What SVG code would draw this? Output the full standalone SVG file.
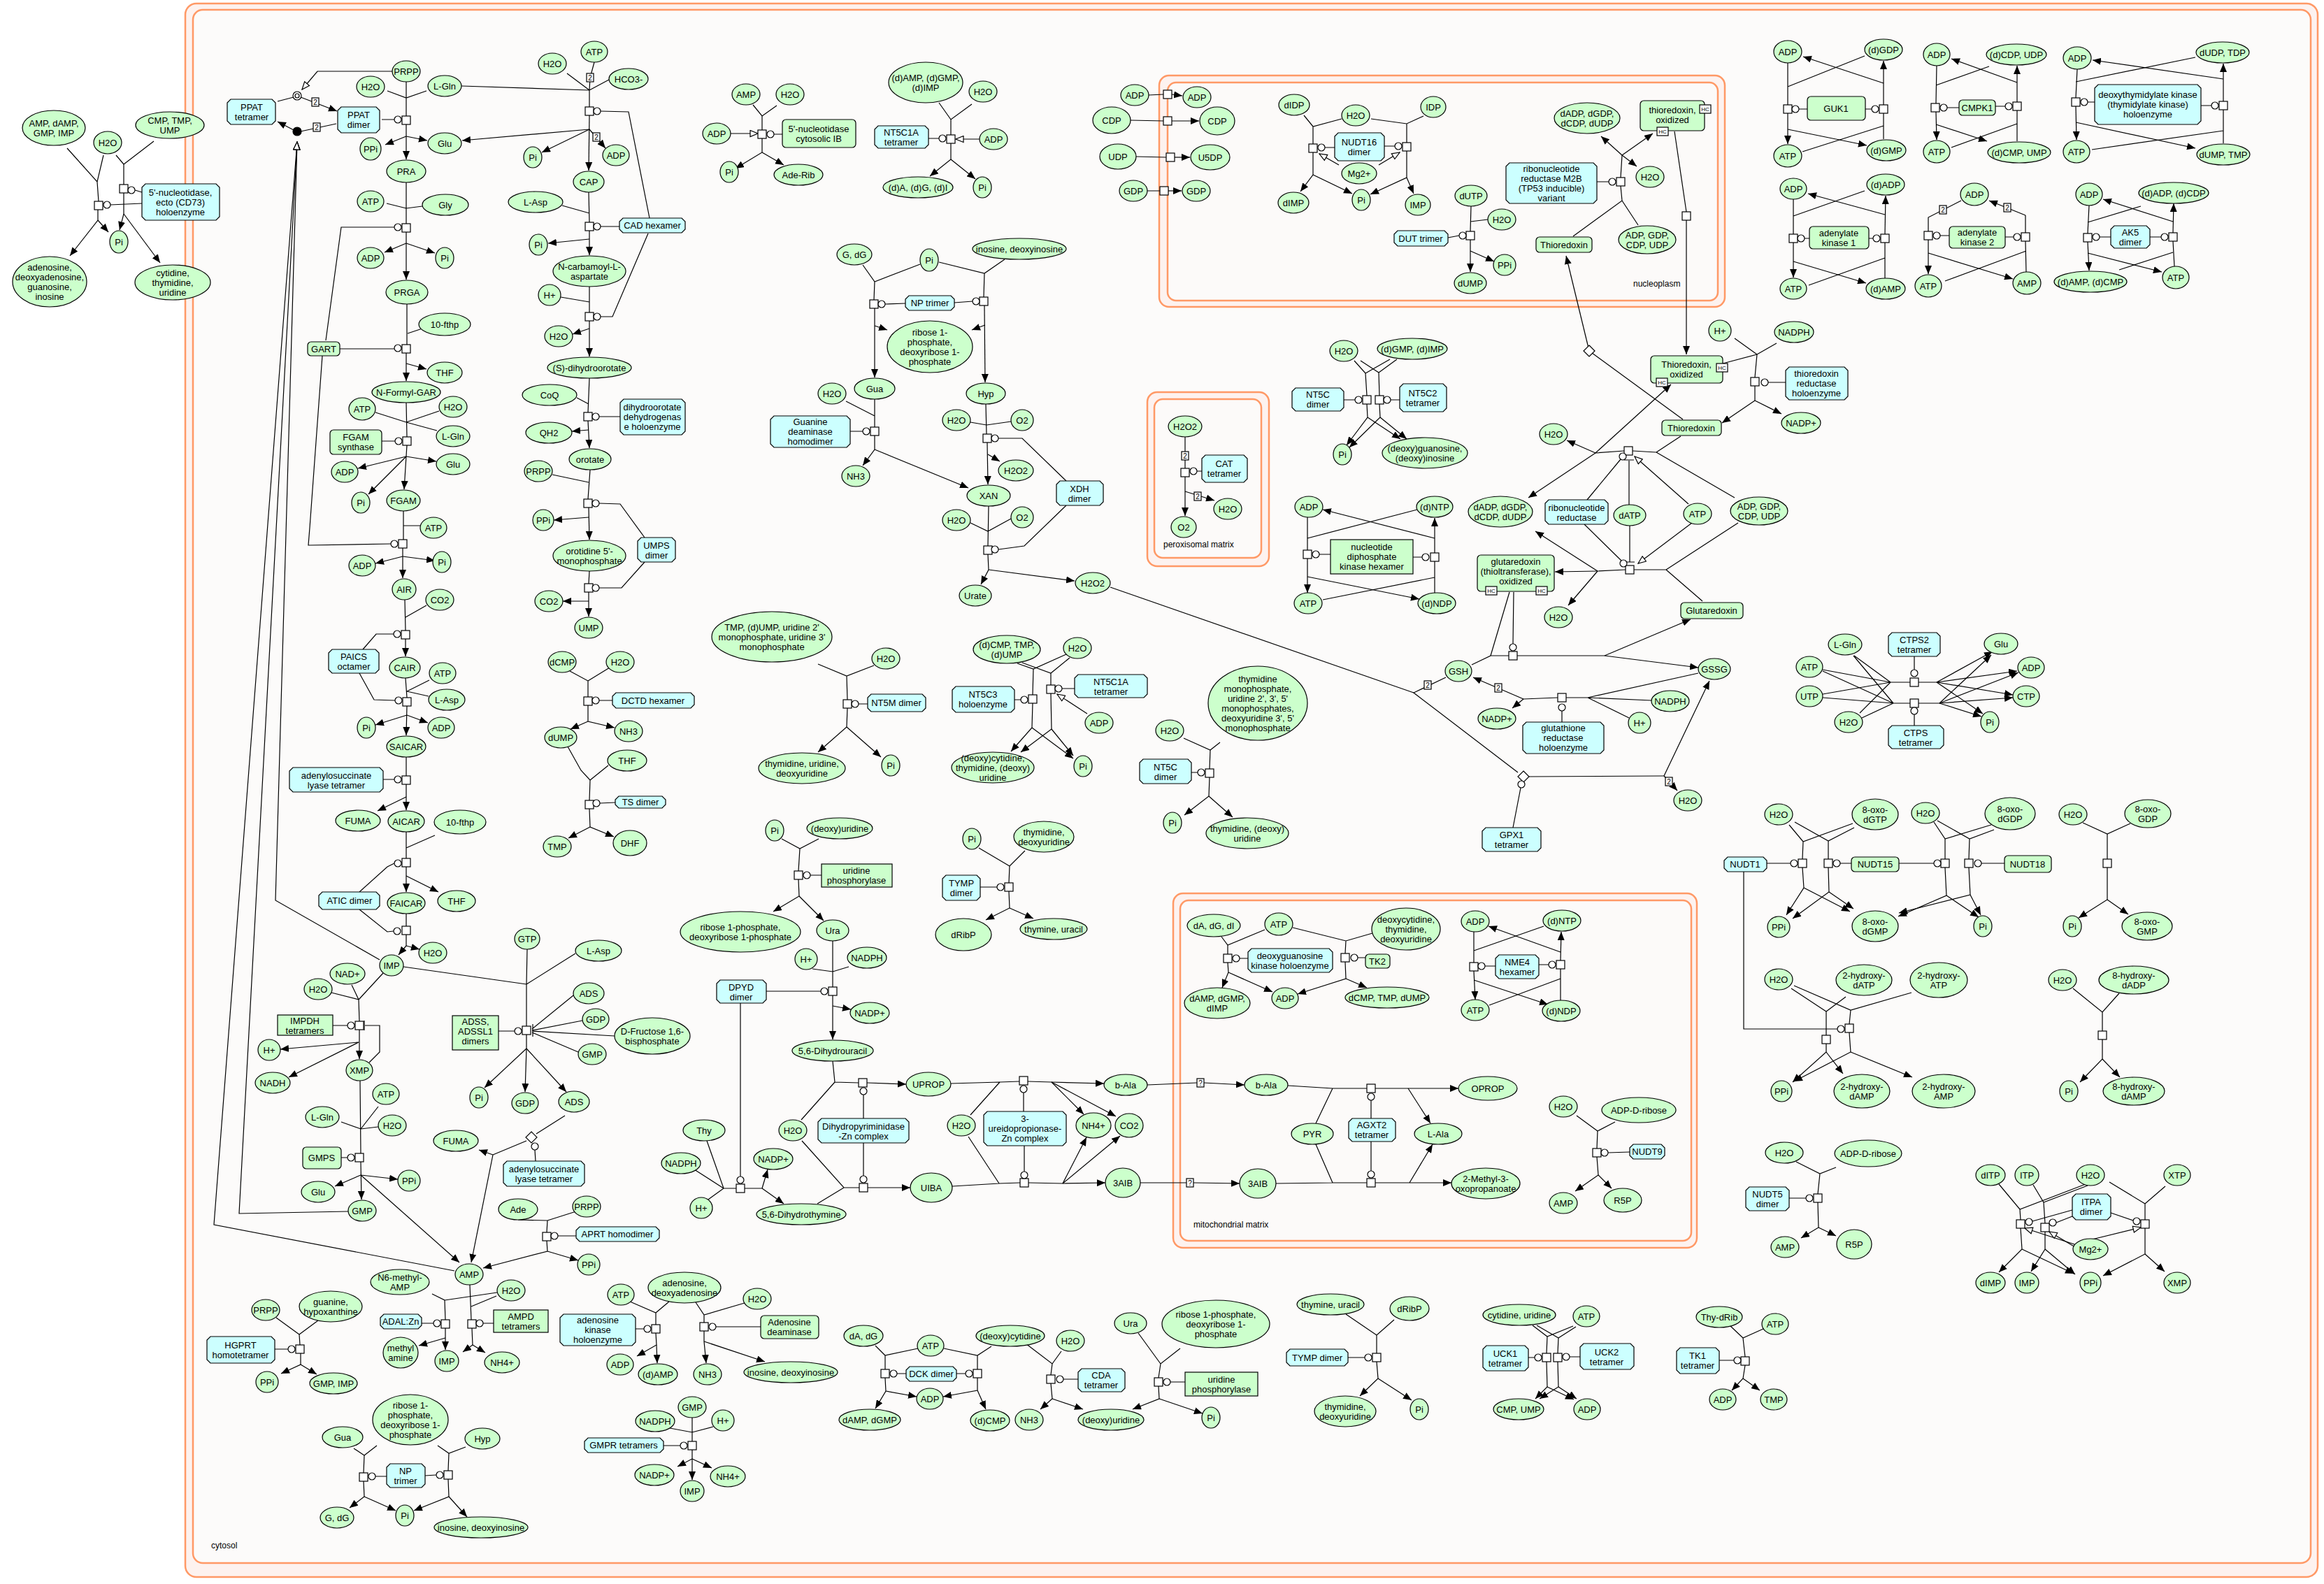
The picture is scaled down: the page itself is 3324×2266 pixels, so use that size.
<svg xmlns="http://www.w3.org/2000/svg" xmlns:xlink="http://www.w3.org/1999/xlink" width="3324" height="2266" viewBox="0 0 3324 2266">
<style>
ellipse{fill:#ccffcc;stroke:#000;stroke-width:1.2}
.cx{fill:#ccffff;stroke:#000;stroke-width:1.2}
.gr{fill:#ccffcc;stroke:#000;stroke-width:1.2}
text{font-family:"Liberation Sans",Arial,sans-serif;font-size:13px;text-anchor:middle;fill:#000}
.lb{text-anchor:start;font-size:12px}
#conn path{fill:none;stroke:#000;stroke-width:1.2}
#conn .a{marker-end:url(#a)}
#conn .h{marker-end:url(#h)}
.s{fill:#fff;stroke:#000;stroke-width:1.2}
circle{fill:#fff;stroke:#000;stroke-width:1.2}
.cmp{stroke:#ff9966;stroke-width:2.5}
.sm{font-size:10px}
.hc{font-size:8px}
</style>
<defs>
<marker id="a" viewBox="0 0 12 10" refX="12" refY="5" markerWidth="12" markerHeight="10" markerUnits="userSpaceOnUse" orient="auto"><path d="M0,0L12,5L0,10z" fill="#000"/></marker>
<marker id="h" viewBox="0 0 13 11" refX="12" refY="5.5" markerWidth="13" markerHeight="11" markerUnits="userSpaceOnUse" orient="auto"><path d="M1,1L12,5.5L1,10z" fill="#fff" stroke="#000" stroke-width="1.2"/></marker>
<rect id="sq" x="-6" y="-6" width="12" height="12" class="s"/>
<circle id="ci" r="5"/>
<path id="dm" d="M0,-8L8,0L0,8L-8,0z" class="s"/>
<g id="s2"><rect x="-5" y="-6" width="10" height="12" class="s"/><text y="4" class="sm">2</text></g>
<g id="sqq"><rect x="-5" y="-6" width="10" height="12" class="s"/><text y="4" class="sm">?</text></g>
<g id="hcb"><rect x="-8" y="-6" width="16" height="12" class="s"/><text y="3" class="hc">HC</text></g>
</defs>
<rect width="3324" height="2266" fill="#fff"/>
<g id="compartments">
<rect class="cmp" x="265" y="5" width="3050" height="2251" rx="16" fill="#fdf2ef"/>
<rect class="cmp" x="276" y="14" width="3029" height="2222" rx="14" fill="#fcfbfa"/>
<text class="lb" x="302" y="2215">cytosol</text>
<rect class="cmp" x="1658" y="108" width="809" height="331" rx="14" fill="#fdf2ef"/>
<rect class="cmp" x="1670" y="118" width="787" height="312" rx="12" fill="#fcfaf9"/>
<text class="lb" x="2336" y="410">nucleoplasm</text>
<rect class="cmp" x="1641" y="561" width="174" height="249" rx="14" fill="#fdf2ef"/>
<rect class="cmp" x="1651" y="571" width="153" height="227" rx="12" fill="#fcfaf9"/>
<text class="lb" x="1664" y="783">peroxisomal matrix</text>
<rect class="cmp" x="1678" y="1278" width="749" height="507" rx="14" fill="#fdf2ef"/>
<rect class="cmp" x="1688" y="1288" width="731" height="487" rx="12" fill="#fcfaf9"/>
<text class="lb" x="1707" y="1756">mitochondrial matrix</text>
</g>
<g id="conn">
<!-- CD73 -->
<path d="M96,212L139,260L141,288M148,222L139,260"/>
<path class="a" d="M140,300L140,315L100,366"/><path class="a" d="M140,315L155,332"/>
<path d="M166,222L177,235L177,264M220,202L177,235"/>
<path class="a" d="M177,276L177,306L171,329"/><path class="a" d="M177,306L229,376"/>
<path d="M203,291L158,293M203,275L193,272"/>
<!-- PPAT -->
<path d="M397,145L420,139"/><path class="a" d="M430,139L482,159"/>
<path d="M481,177L430,188"/><path class="a" d="M420,186L397,174"/>
<path class="h" d="M562,102L454,102L432,128"/>
<path class="h" d="M543,1373L394,1288L425,203"/>
<path class="h" d="M498,1733L342,1736L425,203"/>
<path class="h" d="M650,1818L306,1752L425,203"/>
<path d="M581,117L581,166M554,130L581,140L610,130M546,171L564,171"/>
<path class="a" d="M581,178L581,228"/><path class="a" d="M581,195L551,207"/><path class="a" d="M581,195L611,201"/>
<!-- GAR -->
<path d="M581,261L581,320M553,291L581,298L604,295M466,487L488,325L564,325"/>
<path class="a" d="M581,332L581,400"/><path class="a" d="M581,348L550,361"/><path class="a" d="M581,348L622,362"/>
<path d="M582,435L582,493M583,477L604,470M486,499L564,499"/>
<path class="a" d="M581,505L581,545"/><path class="a" d="M581,520L610,528"/>
<path d="M581,576L582,625M537,590L581,604L625,616M628,588L581,604M546,631L565,631"/>
<path class="a" d="M582,637L578,700"/><path class="a" d="M581,653L512,670"/><path class="a" d="M581,653L624,660"/><path class="a" d="M581,653L527,707"/>
<path d="M577,731L577,772M601,752L577,752M461,509L443,755L441,780L559,778"/>
<path class="a" d="M576,784L576,827"/><path class="a" d="M576,796L537,806"/><path class="a" d="M576,796L622,802"/>
<path d="M579,858L580,902M580,883L610,866M519,929L538,907L563,907"/>
<path class="a" d="M580,914L580,939"/>
<path d="M580,970L582,998M582,989L614,973M582,989L613,996M514,963L535,1001L565,1002"/>
<path class="a" d="M582,1010L581,1052"/><path class="a" d="M582,1023L537,1037"/><path class="a" d="M582,1023L612,1034"/>
<path d="M581,1083L581,1110M548,1115L564,1115"/>
<path class="a" d="M581,1122L581,1159"/><path class="a" d="M581,1140L540,1160"/>
<path d="M581,1190L581,1228M581,1213L622,1195M514,1276L554,1240L564,1235"/>
<path class="a" d="M581,1240L581,1276"/><path class="a" d="M581,1253L627,1276"/>
<path d="M581,1307L581,1325M514,1301L554,1333L563,1332"/>
<path class="a" d="M581,1337L581,1353L570,1366"/><path class="a" d="M581,1353L600,1358"/>
<!-- IMPDH, GMPS -->
<path d="M548,1392L513,1430M503,1409L513,1430M474,1420L513,1430M513,1430L514,1461M476,1467L497,1467"/>
<path d="M528,1520L543,1505L543,1467L522,1467M521,1460L521,1474"/>
<path class="a" d="M514,1473L514,1515"/><path class="a" d="M513,1491L401,1501"/><path class="a" d="M513,1491L413,1541"/>
<path d="M515,1546L516,1650M541,1583L516,1615M488,1605L516,1615L541,1612M488,1656L497,1656"/>
<path class="a" d="M516,1662L517,1716"/><path class="a" d="M516,1681L479,1697"/><path class="a" d="M516,1681L569,1687"/><path class="a" d="M516,1681L657,1806"/>
<!-- ADSS -->
<path d="M577,1383L753,1408M754,1358L753,1408M823,1364L753,1408M753,1408L753,1468M713,1475L736,1475"/>
<path d="M820,1424L761,1472M833,1460L761,1474M879,1482L761,1475M827,1505L761,1477M762,1465L762,1483"/>
<path d="M753,1480L753,1500"/><path class="a" d="M753,1500L693,1556"/><path class="a" d="M753,1500L751,1562"/><path class="a" d="M753,1500L810,1562"/>
<!-- ADSL2 -->
<path d="M808,1596L767,1622M766,1661L765,1645M753,1632L705,1652"/>
<path class="a" d="M705,1652L685,1645"/><path class="a" d="M705,1652L674,1806"/>
<!-- APRT -->
<path d="M741,1745L783,1746M824,1733L783,1746M783,1746L782,1763M824,1768L798,1768"/>
<path class="a" d="M782,1775L783,1790L691,1814"/><path class="a" d="M783,1790L827,1803"/>
<!-- AMPD / ADAL -->
<path d="M672,1838L674,1888M710,1854L674,1869M706,1893L691,1893"/>
<path class="a" d="M675,1900L676,1924L662,1934"/><path class="a" d="M676,1924L694,1935"/>
<path d="M618,1851L636,1860L637,1888M711,1849L636,1860M603,1893L620,1893"/>
<path class="a" d="M637,1900L637,1931"/><path class="a" d="M637,1914L599,1925"/>
<!-- HGPRT -->
<path d="M395,1885L428,1909M455,1889L428,1909M428,1909L429,1924M393,1930L412,1930"/>
<path class="a" d="M430,1936L430,1952L402,1965"/><path class="a" d="M430,1952L453,1966"/>
<!-- NP lower -->
<path d="M506,2072L521,2082L539,2068M521,2082L520,2107M553,2112L537,2112"/>
<path class="a" d="M520,2119L521,2141L500,2157"/><path class="a" d="M521,2141L566,2161"/>
<path d="M666,2070L642,2079L626,2068M642,2079L641,2104M608,2111L624,2110"/>
<path class="a" d="M641,2116L642,2141L592,2161"/><path class="a" d="M642,2141L668,2170"/>
<!-- CPS -->
<path d="M811,105L843,129M850,89L844,111L843,129M871,114L843,129M660,123L843,129M843,129L843,153M859,159L899,160L929,312"/>
<path class="a" d="M843,165L842,244"/><path class="a" d="M843,185L661,201"/><path class="a" d="M843,185L775,218"/><path class="a" d="M843,185L866,212"/>
<path d="M842,275L843,318M804,294L843,305M886,324L859,324"/>
<path class="a" d="M843,330L843,365"/><path class="a" d="M843,342L784,348"/>
<path d="M843,410L843,447M802,425L843,432M927,334L876,453L859,453"/>
<path class="a" d="M843,459L843,510"/><path class="a" d="M843,470L819,478"/>
<path d="M843,541L841,590M825,569L842,578M887,596L857,596"/>
<path class="a" d="M841,602L843,641"/><path class="a" d="M842,615L818,617"/>
<path d="M844,672L841,714M790,679L842,690M922,769L887,721L857,720"/>
<path class="a" d="M842,726L843,772"/><path class="a" d="M842,740L792,744"/>
<path d="M843,817L842,835M922,804L889,841L857,841"/>
<path class="a" d="M842,847L842,882"/><path class="a" d="M842,860L805,860"/>
<!-- DCTD / TS -->
<path d="M815,960L841,974L841,997M872,955L841,974M876,1002L857,1002"/>
<path class="a" d="M841,1009L841,1032L879,1041"/><path class="a" d="M841,1032L816,1043"/>
<path d="M812,1068L831,1102L844,1116L843,1145M870,1095L844,1116M880,1148L858,1149"/>
<path class="a" d="M843,1157L844,1183L878,1197"/><path class="a" d="M844,1183L813,1199"/>
<!-- 5NT IB -->
<path d="M1077,150L1090,166L1111,151M1090,166L1090,186M1119,192L1107,192"/>
<path class="h" d="M1045,191L1084,191"/>
<path class="a" d="M1090,198L1090,218L1052,241"/><path class="a" d="M1090,218L1121,236"/>
<!-- NT5C1A top -->
<path d="M1343,147L1360,171L1390,149M1360,171L1360,193M1328,198L1343,198"/>
<path class="h" d="M1401,199L1367,199"/>
<path class="a" d="M1360,205L1360,228L1330,252"/><path class="a" d="M1360,228L1395,256"/>
<!-- NP upper -->
<path d="M1234,379L1251,403L1316,378M1251,403L1250,429M1295,434L1266,435"/>
<path class="a" d="M1251,441L1251,540"/><path class="a" d="M1251,466L1269,472"/>
<path d="M1343,375L1408,391L1437,371M1408,391L1407,425M1365,433L1391,431"/>
<path class="a" d="M1408,437L1409,547"/><path class="a" d="M1409,465L1390,472"/>
<path d="M1251,571L1251,611M1210,574L1251,595M1216,617L1234,617"/>
<path class="a" d="M1251,623L1251,643L1234,666"/><path class="a" d="M1251,643L1385,698"/>
<!-- XDH -->
<path d="M1410,578L1411,621M1388,604L1411,608L1446,603M1525,688L1462,627L1428,627"/>
<path class="a" d="M1412,633L1413,693"/><path class="a" d="M1413,650L1430,660"/>
<path d="M1414,724L1413,781M1388,748L1413,760L1446,742M1525,723L1465,781L1428,786"/>
<path class="a" d="M1413,793L1414,815L1403,836"/><path class="a" d="M1414,815L1537,831"/>
<path d="M1588,840L2022,991"/>
<!-- transport -->
<path d="M1643,136L1664,135M1617,172L1664,173M1625,224L1668,225M1641,273L1659,273"/>
<path class="a" d="M1676,135L1691,137"/><path class="a" d="M1676,173L1715,173"/><path class="a" d="M1680,225L1702,225"/><path class="a" d="M1671,273L1690,273"/>
<!-- NUDT16 -->
<path d="M1865,165L1878,181L1919,170M1878,181L1878,206M1909,211L1895,211M1961,170L2012,177L2036,166M2012,177L2012,204M1980,209L1995,209"/>
<path class="h" d="M1915,236L1887,220"/><path class="h" d="M1972,236L2002,218"/>
<path class="a" d="M1878,218L1878,250L1860,274"/><path class="a" d="M1878,250L1934,277"/>
<path class="a" d="M2012,216L2012,254L1960,278"/><path class="a" d="M2012,254L2022,277"/>
<!-- DUT -->
<path d="M2104,295L2103,331M2103,317L2128,314M2071,340L2087,337"/>
<path class="a" d="M2103,343L2103,389"/><path class="a" d="M2103,359L2137,374"/>
<!-- RNR M2B -->
<path d="M2284,260L2301,260M2318,254L2320,222M2318,266L2320,287M2250,338L2320,287L2343,322"/>
<path class="a" d="M2320,222L2290,195"/><path class="a" d="M2320,222L2364,191"/><path class="a" d="M2320,222L2341,238"/>
<path d="M2395,188L2412,303"/><path class="a" d="M2412,315L2412,507"/>
<path d="M2407,600L2273,502"/><path class="a" d="M2273,502L2240,366"/>
<!-- TrxR -->
<path d="M2464,520L2513,507M2481,484L2513,507M2541,491L2513,507M2513,507L2510,540M2554,547L2529,547M2510,552L2510,573"/>
<path class="a" d="M2510,573L2548,592"/><path class="a" d="M2510,573L2463,605"/>
<!-- CAT -->
<path d="M1695,625L1695,670M1719,674L1712,674"/>
<path class="a" d="M1695,682L1695,738"/><path class="a" d="M1695,703L1737,716"/>
<!-- NT5C NT5C2 -->
<path d="M1937,516L1953,534L1988,514M1946,516L1972,533L1998,514M1953,534L1955,566M1972,533L1973,566M1922,572L1938,572M2002,572L1989,572"/>
<path class="a" d="M1955,578L1956,597L1926,637"/><path class="a" d="M1956,597L2003,628"/>
<path class="a" d="M1973,578L1974,597L1930,640"/><path class="a" d="M1974,597L2012,628"/>
<!-- NDK -->
<path d="M1870,740L1870,787M2027,729L1870,770M1903,793L1887,793M2021,797L2034,797M1892,858L2052,826M2052,848L2052,803"/>
<path class="a" d="M1870,799L1870,848"/><path class="a" d="M2052,770L1892,729"/><path class="a" d="M1870,825L2030,857"/><path class="a" d="M2052,791L2052,741"/>
<!-- RNR upper -->
<path d="M2282,648L2323,645M2335,645L2369,647M2404,624L2369,647M2481,712L2369,647M2270,715L2318,657M2330,722L2330,659M2323,658L2337,658"/>
<path class="a" d="M2282,648L2241,630"/><path class="a" d="M2282,648L2186,712"/><path class="a" d="M2282,648L2390,550"/>
<path class="h" d="M2415,721L2338,653"/>
<!-- glutaredoxin RNR -->
<path d="M2285,817L2325,815M2337,815L2383,815M2435,860L2383,815M2486,748L2383,815M2266,750L2319,802M2331,752L2331,804M2324,804L2338,804"/>
<path class="a" d="M2285,817L2224,818"/><path class="a" d="M2285,817L2243,866"/><path class="a" d="M2285,817L2196,760"/>
<path class="h" d="M2420,748L2343,806"/>
<!-- GSH -->
<path d="M2159,847L2132,938L2105,951M2132,938L2158,938M2170,938L2295,938M2165,847L2164,921"/>
<path class="a" d="M2295,938L2418,886"/><path class="a" d="M2295,938L2429,955"/>
<path d="M2179,1000L2228,998M2240,998L2271,998M2429,963L2271,998M2362,1002L2271,998M2330,1027L2271,998M2234,1033L2234,1017"/>
<path class="a" d="M2179,1000L2107,969"/><path class="a" d="M2179,1000L2163,1013"/>
<path d="M2068,969L2022,991L2171,1105M2187,1111L2380,1110M2164,1184L2175,1127"/>
<path class="a" d="M2380,1110L2445,974"/><path class="a" d="M2380,1110L2399,1131"/>
<!-- NT5C lower -->
<path d="M1693,1056L1731,1073L1745,1062M1731,1073L1730,1100M1704,1105L1713,1105"/>
<path class="a" d="M1730,1112L1729,1139L1694,1166"/><path class="a" d="M1729,1139L1763,1169"/>
<!-- NT5M -->
<path d="M1170,950L1211,967L1250,952M1211,967L1212,1001M1241,1007L1228,1007"/>
<path class="a" d="M1212,1013L1211,1040L1170,1076"/><path class="a" d="M1211,1040L1260,1083"/>
<!-- NT5C3 -->
<path d="M1455,949L1478,957L1525,936M1462,948L1503,963L1530,941M1478,957L1477,994M1503,963L1503,980M1451,1001L1460,1001M1537,985L1519,985"/>
<path class="h" d="M1555,1021L1512,993"/>
<path class="a" d="M1477,1006L1476,1041L1446,1075"/><path class="a" d="M1476,1041L1535,1085"/>
<path class="a" d="M1503,992L1504,1043L1460,1076"/><path class="a" d="M1504,1043L1535,1081"/>
<!-- UPP upper -->
<path d="M1118,1200L1144,1214L1171,1200M1144,1214L1142,1246M1175,1252L1159,1252"/>
<path class="a" d="M1142,1258L1143,1282L1106,1304"/><path class="a" d="M1143,1282L1178,1317"/>
<!-- TYMP upper -->
<path d="M1400,1213L1444,1239L1466,1217M1444,1239L1443,1263M1402,1269L1426,1269"/>
<path class="a" d="M1443,1275L1444,1299L1410,1316"/><path class="a" d="M1444,1299L1478,1314"/>
<!-- DPYD -->
<path d="M1191,1346L1191,1412M1162,1386L1191,1390L1214,1383M1096,1418L1174,1418"/>
<path class="a" d="M1191,1424L1191,1487"/><path class="a" d="M1191,1439L1217,1444"/>
<path d="M1059,1435L1059,1683M1011,1632L1035,1700L1053,1700M993,1673L1035,1700M1013,1716L1035,1700M1065,1700L1090,1700"/>
<path class="a" d="M1090,1700L1098,1673"/><path class="a" d="M1090,1700L1121,1722"/>
<!-- DHPase -->
<path d="M1191,1518L1194,1548L1228,1549M1146,1602L1194,1548M1235,1600L1235,1566"/>
<path class="a" d="M1240,1549L1296,1551"/>
<path d="M1147,1632L1207,1699L1229,1699M1169,1722L1207,1699M1235,1635L1235,1682"/>
<path class="a" d="M1241,1699L1302,1699"/>
<!-- UPase -->
<path d="M1360,1550L1430,1548L1458,1547M1388,1595L1430,1548M1470,1547L1504,1548M1464,1590L1464,1563"/>
<path class="a" d="M1504,1548L1579,1550"/><path class="a" d="M1504,1548L1550,1594"/><path class="a" d="M1504,1548L1596,1597"/>
<path d="M1362,1697L1429,1693L1459,1692M1385,1626L1429,1693M1471,1692L1520,1693M1465,1639L1465,1676"/>
<path class="a" d="M1520,1693L1581,1692"/><path class="a" d="M1520,1693L1554,1627"/><path class="a" d="M1520,1693L1602,1625"/>
<!-- mito transport, AGXT2 -->
<path d="M1641,1552L1712,1549M1631,1692L1697,1692"/>
<path class="a" d="M1722,1549L1780,1552"/><path class="a" d="M1707,1692L1773,1693"/>
<path d="M1842,1553L1906,1557L1955,1557M1882,1607L1906,1557M1967,1557L2014,1557M1961,1600L1961,1574"/>
<path class="a" d="M2014,1557L2086,1557"/><path class="a" d="M2014,1557L2046,1607"/>
<path d="M1825,1693L1906,1692L1955,1692M1882,1637L1906,1692M1967,1692L2016,1692M1961,1633L1961,1675"/>
<path class="a" d="M2016,1692L2076,1692"/><path class="a" d="M2016,1692L2049,1637"/>
<!-- DGUOK TK2 -->
<path d="M1747,1340L1756,1352L1809,1330M1756,1352L1756,1365M1785,1371L1773,1371"/>
<path class="a" d="M1756,1377L1757,1391L1748,1413"/><path class="a" d="M1757,1391L1820,1419"/>
<path d="M1849,1327L1925,1346L1963,1335M1925,1346L1924,1364M1953,1370L1942,1370"/>
<path class="a" d="M1924,1376L1925,1400L1856,1422"/><path class="a" d="M1925,1400L1955,1413"/>
<!-- NME4 -->
<path d="M2108,1333L2108,1377M2208,1325L2108,1360M2139,1382L2124,1382M2201,1380L2215,1380M2130,1438L2232,1400M2232,1431L2232,1386"/>
<path class="a" d="M2108,1389L2110,1430"/><path class="a" d="M2108,1402L2214,1437"/><path class="a" d="M2232,1374L2233,1333"/><path class="a" d="M2232,1362L2129,1325"/>
<!-- NUDT9 -->
<path d="M2255,1596L2285,1618L2310,1605M2285,1618L2284,1643M2331,1648L2300,1649"/>
<path class="a" d="M2284,1655L2286,1681L2253,1704"/><path class="a" d="M2286,1681L2305,1700"/>
<!-- ADK, ADA -->
<path d="M901,1862L938,1878L957,1862M938,1878L938,1895M909,1901L921,1901"/>
<path class="a" d="M938,1907L939,1924L911,1940"/><path class="a" d="M939,1924L940,1950"/>
<path d="M995,1863L1007,1881L1065,1864M1007,1881L1007,1892M1088,1898L1024,1898"/>
<path class="a" d="M1007,1904L1007,1919L1010,1950"/><path class="a" d="M1007,1919L1094,1948"/>
<!-- GMPR -->
<path d="M990,2028L990,2062M958,2043L990,2049L1020,2041M949,2068L973,2068"/>
<path class="a" d="M990,2074L990,2087L969,2098"/><path class="a" d="M990,2087L990,2117"/><path class="a" d="M990,2087L1018,2100"/>
<!-- DCK -->
<path d="M1252,1925L1266,1939L1313,1929M1266,1939L1266,1959M1296,1965L1283,1965"/>
<path class="a" d="M1266,1971L1267,1990L1252,2015"/><path class="a" d="M1267,1990L1311,1998"/>
<path d="M1350,1929L1398,1939L1418,1926M1398,1939L1398,1959M1368,1965L1381,1965"/>
<path class="a" d="M1398,1971L1398,1989L1349,1998"/><path class="a" d="M1398,1989L1410,2016"/>
<!-- CDA -->
<path d="M1467,1922L1505,1951L1518,1933M1505,1951L1503,1967M1542,1973L1521,1973"/>
<path class="a" d="M1503,1979L1505,2001L1488,2016"/><path class="a" d="M1505,2001L1549,2016"/>
<!-- UPP lower -->
<path d="M1628,1907L1660,1951L1688,1929M1660,1951L1657,1971M1695,1977L1674,1977"/>
<path class="a" d="M1657,1983L1658,2001L1620,2016"/><path class="a" d="M1658,2001L1720,2022"/>
<!-- TYMP lower -->
<path d="M1925,1880L1969,1910L1994,1888M1969,1910L1969,1936M1928,1942L1952,1942"/>
<path class="a" d="M1969,1948L1971,1972L1945,1997"/><path class="a" d="M1971,1972L2019,2003"/>
<!-- UCK -->
<path d="M2192,1896L2213,1912L2250,1897M2198,1896L2229,1914L2254,1898M2213,1912L2212,1936M2229,1914L2228,1936M2186,1942L2195,1942M2260,1941L2245,1941"/>
<path class="a" d="M2212,1948L2213,1984L2196,2001"/><path class="a" d="M2213,1984L2251,2002"/>
<path class="a" d="M2228,1948L2229,1984L2202,2001"/><path class="a" d="M2229,1984L2255,2001"/>
<!-- TK1 -->
<path d="M2475,1897L2493,1914L2522,1901M2493,1914L2496,1941M2459,1946L2480,1946"/>
<path class="a" d="M2496,1953L2493,1972L2477,1989"/><path class="a" d="M2493,1972L2517,1989"/>
<!-- NUDT5 -->
<path d="M2569,1662L2603,1679L2626,1670M2603,1679L2600,1708M2559,1714L2583,1714"/>
<path class="a" d="M2600,1720L2601,1756L2576,1771"/><path class="a" d="M2601,1756L2626,1768"/>
<!-- ITPA -->
<path d="M2859,1694L2889,1730L2983,1694M2908,1695L2923,1720L2986,1696M3017,1691L3068,1722L3097,1697M2889,1730L2890,1745M2923,1720L2925,1750M3068,1722L3068,1745"/>
<path d="M2964,1731L2907,1747M2964,1740L2941,1749M3019,1735L3051,1746"/>
<path class="h" d="M2967,1780L2896,1757"/><path class="h" d="M2968,1784L2931,1762"/><path class="h" d="M2972,1778L3062,1756"/>
<path class="a" d="M2890,1757L2892,1787L2859,1820"/><path class="a" d="M2892,1787L2966,1822"/>
<path class="a" d="M2925,1762L2925,1787L2905,1819"/><path class="a" d="M2925,1787L2968,1823"/>
<path class="a" d="M3068,1757L3068,1794L3008,1825"/><path class="a" d="M3068,1794L3096,1819"/>
<!-- GUK1 -->
<path d="M2557,90L2557,150M2667,80L2557,124M2694,199L2694,162M2578,217L2694,180M2585,156L2573,156M2668,156L2677,156"/>
<path class="a" d="M2557,162L2557,206"/><path class="a" d="M2557,185L2670,208"/><path class="a" d="M2694,150L2694,87"/><path class="a" d="M2694,119L2579,81"/>
<!-- CMPK1 -->
<path d="M2770,94L2769,148M2845,95L2769,122M2885,202L2885,158M2791,211L2885,177M2802,154L2785,154M2854,152L2868,152"/>
<path class="a" d="M2769,160L2770,200"/><path class="a" d="M2769,178L2842,202"/><path class="a" d="M2885,146L2885,94"/><path class="a" d="M2885,118L2791,84"/>
<!-- dTMPK -->
<path d="M2971,99L2969,140M3140,82L2969,117M3180,205L3180,157M2992,214L3180,187M2996,146L2986,146M3148,151L3163,151"/>
<path class="a" d="M2969,152L2970,200"/><path class="a" d="M2969,175L3140,212"/><path class="a" d="M3180,145L3180,91"/><path class="a" d="M3180,113L2993,86"/>
<!-- AK1 -->
<path d="M2565,285L2565,335M2667,273L2565,309M2696,398L2696,347M2587,408L2696,369M2588,341L2581,341M2673,341L2679,341"/>
<path class="a" d="M2565,347L2565,397"/><path class="a" d="M2565,374L2669,405"/><path class="a" d="M2696,335L2697,280"/><path class="a" d="M2696,307L2586,277"/>
<!-- AK2 -->
<path d="M2805,287L2758,311L2758,331M2898,389L2897,345M2897,333L2897,308M2782,402L2898,359M2788,337L2775,337M2868,339L2880,339"/>
<path class="a" d="M2758,343L2758,392"/><path class="a" d="M2758,362L2879,399"/><path class="a" d="M2897,308L2845,287"/>
<!-- AK5 -->
<path d="M2988,294L2986,334M3062,295L2986,318M3110,381L3108,345M3031,386L3108,361M3019,339L3003,339M3075,339L3091,339"/>
<path class="a" d="M2986,346L2988,387"/><path class="a" d="M2986,362L3092,389"/><path class="a" d="M3108,333L3109,291"/><path class="a" d="M3108,317L3008,285"/>
<!-- CTPS -->
<path d="M2652,938L2704,976M2651,938L2708,1006M2607,958L2704,976M2607,960L2708,1006M2607,993L2704,976M2607,998L2708,1006M2660,1020L2704,976M2663,1027L2708,1006M2704,976L2732,976M2744,976L2770,976M2708,1006L2732,1006M2744,1006L2774,1006M2738,939L2738,958M2738,1038L2738,1022"/>
<path class="a" d="M2770,976L2850,932"/><path class="a" d="M2770,976L2885,960"/><path class="a" d="M2770,976L2879,994"/><path class="a" d="M2770,976L2836,1021"/>
<path class="a" d="M2774,1006L2848,937"/><path class="a" d="M2774,1006L2887,962"/><path class="a" d="M2774,1006L2879,998"/><path class="a" d="M2774,1006L2834,1025"/>
<!-- NUDT1 / NUDT15 / NUDT18 -->
<path d="M2559,1180L2579,1204L2650,1178M2567,1176L2615,1203L2652,1184M2579,1204L2578,1229M2615,1203L2615,1229M2527,1235L2561,1235M2648,1235L2632,1235"/>
<path class="a" d="M2578,1241L2580,1270L2555,1309"/><path class="a" d="M2580,1270L2646,1304"/>
<path class="a" d="M2615,1241L2616,1276L2564,1314"/><path class="a" d="M2616,1276L2651,1300"/>
<path d="M2494,1247L2494,1472L2628,1472"/>
<path d="M2766,1176L2782,1200L2848,1180M2771,1174L2817,1200L2852,1187M2782,1200L2782,1229M2817,1200L2816,1229M2716,1235L2766,1235M2867,1235L2834,1235"/>
<path class="a" d="M2782,1241L2784,1281L2715,1311"/><path class="a" d="M2784,1281L2830,1312"/>
<path class="a" d="M2816,1241L2818,1280L2716,1306"/><path class="a" d="M2818,1280L2833,1309"/>
<path d="M2979,1177L3014,1193L3047,1178M3014,1193L3014,1229"/>
<path class="a" d="M3014,1241L3014,1287L2973,1313"/><path class="a" d="M3014,1287L3044,1308"/>
<path d="M2562,1414L2612,1447L2640,1426M2566,1410L2647,1445L2734,1420M2612,1447L2612,1481M2647,1445L2645,1465"/>
<path class="a" d="M2612,1493L2612,1505L2564,1548"/><path class="a" d="M2612,1505L2636,1536"/>
<path class="a" d="M2645,1477L2647,1505L2566,1547"/><path class="a" d="M2647,1505L2735,1541"/>
<path d="M2965,1414L3007,1448L3031,1421M3007,1448L3007,1475"/>
<path class="a" d="M3007,1487L3007,1515L2975,1548"/><path class="a" d="M3007,1515L3032,1541"/>
</g>
<g id="proc">
<use href="#sq" x="141" y="294"/><use href="#ci" x="153" y="293"/><use href="#sq" x="177" y="270"/><use href="#ci" x="188" y="272"/>
<circle cx="425" cy="137" r="6"/><circle cx="425" cy="137" r="3"/><circle cx="425" cy="188" r="6" style="fill:#000"/>
<use href="#s2" x="451" y="146"/><use href="#s2" x="453" y="182"/>
<use href="#sq" x="581" y="172"/><use href="#ci" x="569" y="171"/>
<use href="#sq" x="581" y="326"/><use href="#ci" x="569" y="325"/>
<use href="#sq" x="581" y="499"/><use href="#ci" x="569" y="498"/>
<use href="#sq" x="582" y="631"/><use href="#ci" x="570" y="631"/>
<use href="#sq" x="576" y="778"/><use href="#ci" x="564" y="778"/>
<use href="#sq" x="580" y="908"/><use href="#ci" x="568" y="907"/>
<use href="#sq" x="582" y="1004"/><use href="#ci" x="570" y="1002"/>
<use href="#sq" x="581" y="1116"/><use href="#ci" x="569" y="1115"/>
<use href="#sq" x="581" y="1234"/><use href="#ci" x="569" y="1235"/>
<use href="#sq" x="581" y="1331"/><use href="#ci" x="568" y="1332"/>
<use href="#sq" x="514" y="1467"/><use href="#ci" x="502" y="1467"/>
<use href="#sq" x="514" y="1656"/><use href="#ci" x="502" y="1656"/>
<use href="#sq" x="753" y="1474"/><use href="#ci" x="741" y="1475"/>
<use href="#dm" x="760" y="1627"/><use href="#ci" x="765" y="1640"/>
<use href="#sq" x="782" y="1769"/><use href="#ci" x="793" y="1768"/>
<use href="#sq" x="675" y="1894"/><use href="#ci" x="686" y="1893"/>
<use href="#sq" x="637" y="1894"/><use href="#ci" x="625" y="1893"/>
<use href="#sq" x="429" y="1930"/><use href="#ci" x="417" y="1930"/>
<use href="#sq" x="520" y="2113"/><use href="#ci" x="532" y="2112"/>
<use href="#sq" x="641" y="2110"/><use href="#ci" x="629" y="2110"/>
<use href="#s2" x="844" y="111"/><use href="#sq" x="843" y="159"/><use href="#ci" x="854" y="159"/><use href="#s2" x="853" y="196"/>
<use href="#sq" x="843" y="324"/><use href="#ci" x="854" y="324"/>
<use href="#sq" x="843" y="453"/><use href="#ci" x="854" y="453"/>
<use href="#sq" x="841" y="596"/><use href="#ci" x="852" y="596"/>
<use href="#sq" x="841" y="720"/><use href="#ci" x="852" y="720"/>
<use href="#sq" x="842" y="841"/><use href="#ci" x="852" y="841"/>
<use href="#sq" x="841" y="1003"/><use href="#ci" x="852" y="1002"/>
<use href="#sq" x="843" y="1151"/><use href="#ci" x="853" y="1149"/>
<use href="#sq" x="1090" y="192"/><use href="#ci" x="1102" y="192"/>
<use href="#sq" x="1360" y="199"/><use href="#ci" x="1348" y="198"/>
<use href="#sq" x="1250" y="435"/><use href="#ci" x="1261" y="435"/>
<use href="#sq" x="1407" y="431"/><use href="#ci" x="1396" y="431"/>
<use href="#sq" x="1251" y="617"/><use href="#ci" x="1239" y="617"/>
<use href="#sq" x="1412" y="627"/><use href="#ci" x="1423" y="627"/>
<use href="#sq" x="1413" y="787"/><use href="#ci" x="1423" y="786"/>
<use href="#sq" x="1670" y="135"/><use href="#sq" x="1670" y="173"/><use href="#sq" x="1674" y="225"/><use href="#sq" x="1665" y="273"/>
<use href="#sq" x="1878" y="212"/><use href="#ci" x="1890" y="211"/><use href="#sq" x="2012" y="210"/><use href="#ci" x="2000" y="209"/>
<use href="#sq" x="2103" y="337"/><use href="#ci" x="2092" y="337"/>
<use href="#sq" x="2318" y="260"/><use href="#ci" x="2306" y="260"/>
<use href="#sq" x="2412" y="309"/><use href="#dm" x="2273" y="502"/>
<use href="#sq" x="2510" y="546"/><use href="#ci" x="2524" y="547"/>
<use href="#s2" x="1695" y="652"/><use href="#sq" x="1695" y="676"/><use href="#ci" x="1707" y="674"/><use href="#s2" x="1713" y="710"/>
<use href="#sq" x="1955" y="572"/><use href="#ci" x="1943" y="572"/><use href="#sq" x="1973" y="572"/><use href="#ci" x="1984" y="572"/>
<use href="#sq" x="1870" y="793"/><use href="#ci" x="1882" y="793"/><use href="#sq" x="2052" y="797"/><use href="#ci" x="2039" y="797"/>
<use href="#sq" x="2329" y="645"/><use href="#ci" x="2321" y="653"/>
<use href="#sq" x="2331" y="815"/><use href="#ci" x="2322" y="806"/>
<use href="#sq" x="2164" y="938"/><use href="#ci" x="2164" y="926"/>
<use href="#sq" x="2234" y="998"/><use href="#ci" x="2234" y="1012"/><use href="#s2" x="2143" y="984"/>
<use href="#s2" x="2042" y="980"/><use href="#dm" x="2179" y="1111"/><use href="#ci" x="2176" y="1122"/><use href="#s2" x="2387" y="1118"/>
<use href="#sq" x="1730" y="1106"/><use href="#ci" x="1718" y="1105"/>
<use href="#sq" x="1212" y="1007"/><use href="#ci" x="1223" y="1007"/>
<use href="#sq" x="1477" y="1000"/><use href="#ci" x="1465" y="1001"/><use href="#sq" x="1503" y="986"/><use href="#ci" x="1514" y="985"/>
<use href="#sq" x="1142" y="1252"/><use href="#ci" x="1154" y="1252"/>
<use href="#sq" x="1443" y="1269"/><use href="#ci" x="1431" y="1269"/>
<use href="#sq" x="1191" y="1418"/><use href="#ci" x="1179" y="1418"/>
<use href="#sq" x="1059" y="1700"/><use href="#ci" x="1059" y="1688"/>
<use href="#sq" x="1234" y="1549"/><use href="#ci" x="1235" y="1561"/><use href="#sq" x="1235" y="1699"/><use href="#ci" x="1235" y="1687"/>
<use href="#sq" x="1464" y="1546"/><use href="#ci" x="1464" y="1558"/><use href="#sq" x="1465" y="1692"/><use href="#ci" x="1465" y="1681"/>
<use href="#sqq" x="1717" y="1549"/><use href="#sqq" x="1702" y="1692"/>
<use href="#sq" x="1961" y="1557"/><use href="#ci" x="1961" y="1569"/><use href="#sq" x="1961" y="1692"/><use href="#ci" x="1961" y="1680"/>
<use href="#sq" x="1756" y="1371"/><use href="#ci" x="1768" y="1371"/><use href="#sq" x="1924" y="1370"/><use href="#ci" x="1937" y="1370"/>
<use href="#sq" x="2108" y="1383"/><use href="#ci" x="2119" y="1382"/><use href="#sq" x="2232" y="1380"/><use href="#ci" x="2220" y="1380"/>
<use href="#sq" x="2284" y="1649"/><use href="#ci" x="2295" y="1649"/>
<use href="#sq" x="938" y="1901"/><use href="#ci" x="926" y="1901"/>
<use href="#sq" x="1007" y="1898"/><use href="#ci" x="1019" y="1898"/>
<use href="#sq" x="990" y="2068"/><use href="#ci" x="978" y="2068"/>
<use href="#sq" x="1266" y="1965"/><use href="#ci" x="1278" y="1965"/><use href="#sq" x="1398" y="1965"/><use href="#ci" x="1386" y="1965"/>
<use href="#sq" x="1503" y="1973"/><use href="#ci" x="1516" y="1973"/>
<use href="#sq" x="1657" y="1977"/><use href="#ci" x="1669" y="1977"/>
<use href="#sq" x="1969" y="1942"/><use href="#ci" x="1957" y="1942"/>
<use href="#sq" x="2212" y="1942"/><use href="#ci" x="2200" y="1942"/><use href="#sq" x="2228" y="1942"/><use href="#ci" x="2240" y="1941"/>
<use href="#sq" x="2496" y="1947"/><use href="#ci" x="2485" y="1946"/>
<use href="#sq" x="2600" y="1714"/><use href="#ci" x="2588" y="1714"/>
<use href="#sq" x="2890" y="1751"/><use href="#ci" x="2902" y="1748"/><use href="#sq" x="2925" y="1756"/><use href="#ci" x="2936" y="1749"/><use href="#sq" x="3068" y="1751"/><use href="#ci" x="3056" y="1747"/>
<use href="#sq" x="2557" y="156"/><use href="#ci" x="2568" y="156"/><use href="#sq" x="2694" y="156"/><use href="#ci" x="2682" y="156"/>
<use href="#sq" x="2768" y="154"/><use href="#ci" x="2780" y="154"/><use href="#sq" x="2885" y="152"/><use href="#ci" x="2873" y="152"/>
<use href="#sq" x="2969" y="146"/><use href="#ci" x="2981" y="146"/><use href="#sq" x="3180" y="151"/><use href="#ci" x="3168" y="151"/>
<use href="#sq" x="2565" y="341"/><use href="#ci" x="2576" y="341"/><use href="#sq" x="2696" y="341"/><use href="#ci" x="2684" y="341"/>
<use href="#sq" x="2758" y="337"/><use href="#ci" x="2770" y="337"/><use href="#sq" x="2897" y="339"/><use href="#ci" x="2885" y="339"/><use href="#s2" x="2779" y="300"/><use href="#s2" x="2871" y="297"/>
<use href="#sq" x="2986" y="340"/><use href="#ci" x="2998" y="339"/><use href="#sq" x="3108" y="339"/><use href="#ci" x="3096" y="339"/>
<use href="#sq" x="2738" y="976"/><use href="#ci" x="2738" y="963"/><use href="#sq" x="2738" y="1006"/><use href="#ci" x="2738" y="1017"/>
<use href="#sq" x="2578" y="1235"/><use href="#ci" x="2566" y="1235"/><use href="#sq" x="2615" y="1235"/><use href="#ci" x="2627" y="1235"/>
<use href="#sq" x="2782" y="1235"/><use href="#ci" x="2771" y="1235"/><use href="#sq" x="2816" y="1235"/><use href="#ci" x="2829" y="1235"/>
<use href="#sq" x="3014" y="1235"/>
<use href="#sq" x="2612" y="1487"/><use href="#sq" x="2645" y="1471"/><use href="#ci" x="2633" y="1472"/>
<use href="#sq" x="3007" y="1481"/>
</g>
<g id="nodes">
<g id="n001"><ellipse cx="77" cy="183" rx="45" ry="25"/><text x="77" y="181">AMP, dAMP,<tspan x="77" dy="14">GMP, IMP</tspan></text></g>
<g id="n002"><ellipse cx="154" cy="204" rx="20" ry="16"/><text x="154" y="209">H2O</text></g>
<g id="n003"><ellipse cx="243" cy="179" rx="49" ry="19"/><text x="243" y="177">CMP, TMP,<tspan x="243" dy="14">UMP</tspan></text></g>
<g id="n004"><ellipse cx="170" cy="346" rx="13" ry="16"/><text x="170" y="351">Pi</text></g>
<g id="n005"><ellipse cx="71" cy="403" rx="53" ry="36"/><text x="71" y="387">adenosine,<tspan x="71" dy="14">deoxyadenosine,</tspan><tspan x="71" dy="14">guanosine,</tspan><tspan x="71" dy="14">inosine</tspan></text></g>
<g id="n006"><ellipse cx="247" cy="404" rx="54" ry="25"/><text x="247" y="395">cytidine,<tspan x="247" dy="14">thymidine,</tspan><tspan x="247" dy="14">uridine</tspan></text></g>
<g id="c001"><path class="cx" d="M208,263h101l5,5v42l-5,5h-101l-5,-5v-42z"/><text x="258" y="280">5'-nucleotidase,<tspan x="258" dy="14">ecto (CD73)</tspan><tspan x="258" dy="14">holoenzyme</tspan></text></g>
<g id="c002"><path class="cx" d="M330,142h59l5,5v26l-5,5h-59l-5,-5v-26z"/><text x="360" y="158">PPAT<tspan x="360" dy="14">tetramer</tspan></text></g>
<g id="c003"><path class="cx" d="M488,153h50l5,5v27l-5,5h-50l-5,-5v-27z"/><text x="513" y="169">PPAT<tspan x="513" dy="14">dimer</tspan></text></g>
<g id="n010"><ellipse cx="581" cy="102" rx="20" ry="15"/><text x="581" y="107">PRPP</text></g>
<g id="n011"><ellipse cx="530" cy="124" rx="20" ry="15"/><text x="530" y="129">H2O</text></g>
<g id="n012"><ellipse cx="636" cy="123" rx="24" ry="15"/><text x="636" y="128">L-Gln</text></g>
<g id="n013"><ellipse cx="530" cy="213" rx="15" ry="16"/><text x="530" y="218">PPi</text></g>
<g id="n014"><ellipse cx="636" cy="205" rx="24" ry="15"/><text x="636" y="210">Glu</text></g>
<g id="n015"><ellipse cx="581" cy="245" rx="28" ry="16"/><text x="581" y="250">PRA</text></g>
<g id="n016"><ellipse cx="530" cy="288" rx="19" ry="15"/><text x="530" y="293">ATP</text></g>
<g id="n017"><ellipse cx="637" cy="293" rx="33" ry="15"/><text x="637" y="298">Gly</text></g>
<g id="n018"><ellipse cx="530" cy="369" rx="19" ry="15"/><text x="530" y="374">ADP</text></g>
<g id="n019"><ellipse cx="636" cy="369" rx="13" ry="15"/><text x="636" y="374">Pi</text></g>
<g id="n020"><ellipse cx="582" cy="418" rx="30" ry="17"/><text x="582" y="423">PRGA</text></g>
<g id="n021"><ellipse cx="636" cy="464" rx="37" ry="16"/><text x="636" y="469">10-fthp</text></g>
<g id="n022"><ellipse cx="636" cy="533" rx="25" ry="15"/><text x="636" y="538">THF</text></g>
<g id="n023"><ellipse cx="581" cy="561" rx="49" ry="15"/><text x="581" y="566">N-Formyl-GAR</text></g>
<g id="n024"><ellipse cx="518" cy="585" rx="19" ry="16"/><text x="518" y="590">ATP</text></g>
<g id="n025"><ellipse cx="648" cy="582" rx="20" ry="15"/><text x="648" y="587">H2O</text></g>
<g id="n026"><ellipse cx="648" cy="624" rx="24" ry="15"/><text x="648" y="629">L-Gln</text></g>
<g id="n027"><ellipse cx="493" cy="675" rx="19" ry="15"/><text x="493" y="680">ADP</text></g>
<g id="n028"><ellipse cx="648" cy="664" rx="24" ry="15"/><text x="648" y="669">Glu</text></g>
<g id="n029"><ellipse cx="516" cy="719" rx="13" ry="15"/><text x="516" y="724">Pi</text></g>
<g id="n030"><ellipse cx="577" cy="716" rx="24" ry="15"/><text x="577" y="721">FGAM</text></g>
<g id="n031"><ellipse cx="620" cy="755" rx="19" ry="15"/><text x="620" y="760">ATP</text></g>
<g id="n032"><ellipse cx="518" cy="809" rx="19" ry="15"/><text x="518" y="814">ADP</text></g>
<g id="n033"><ellipse cx="632" cy="804" rx="13" ry="15"/><text x="632" y="809">Pi</text></g>
<g id="n034"><ellipse cx="578" cy="843" rx="17" ry="15"/><text x="578" y="848">AIR</text></g>
<g id="n035"><ellipse cx="629" cy="858" rx="20" ry="15"/><text x="629" y="863">CO2</text></g>
<g id="n036"><ellipse cx="579" cy="955" rx="22" ry="15"/><text x="579" y="960">CAIR</text></g>
<g id="n037"><ellipse cx="633" cy="963" rx="19" ry="15"/><text x="633" y="968">ATP</text></g>
<g id="n038"><ellipse cx="639" cy="1001" rx="26" ry="15"/><text x="639" y="1006">L-Asp</text></g>
<g id="n039"><ellipse cx="524" cy="1041" rx="13" ry="15"/><text x="524" y="1046">Pi</text></g>
<g id="n040"><ellipse cx="631" cy="1041" rx="19" ry="15"/><text x="631" y="1046">ADP</text></g>
<g id="n041"><ellipse cx="581" cy="1068" rx="28" ry="15"/><text x="581" y="1073">SAICAR</text></g>
<g id="n042"><ellipse cx="512" cy="1174" rx="32" ry="15"/><text x="512" y="1179">FUMA</text></g>
<g id="n043"><ellipse cx="581" cy="1175" rx="26" ry="15"/><text x="581" y="1180">AICAR</text></g>
<g id="n044"><ellipse cx="658" cy="1176" rx="37" ry="17"/><text x="658" y="1181">10-fthp</text></g>
<g id="n045"><ellipse cx="581" cy="1292" rx="27" ry="15"/><text x="581" y="1297">FAICAR</text></g>
<g id="n046"><ellipse cx="653" cy="1289" rx="27" ry="15"/><text x="653" y="1294">THF</text></g>
<g id="n047"><ellipse cx="619" cy="1363" rx="20" ry="15"/><text x="619" y="1368">H2O</text></g>
<g id="n048"><ellipse cx="560" cy="1381" rx="17" ry="15"/><text x="560" y="1386">IMP</text></g>
<g id="p001"><rect class="gr" x="440" y="489" width="46" height="20" rx="5"/><text x="463" y="504">GART</text></g>
<g id="p002"><rect class="gr" x="472" y="615" width="74" height="35" rx="5"/><text x="509" y="630">FGAM<tspan x="509" dy="14">synthase</tspan></text></g>
<g id="c004"><path class="cx" d="M475,929h62l5,5v24l-5,5h-62l-5,-5v-24z"/><text x="506" y="944">PAICS<tspan x="506" dy="14">octamer</tspan></text></g>
<g id="c005"><path class="cx" d="M419,1098h124l5,5v25l-5,5h-124l-5,-5v-25z"/><text x="481" y="1114">adenylosuccinate<tspan x="481" dy="14">lyase tetramer</tspan></text></g>
<g id="c006"><path class="cx" d="M461,1276h77l5,5v15l-5,5h-77l-5,-5v-15z"/><text x="500" y="1293">ATIC dimer</text></g>
<g id="n050"><ellipse cx="497" cy="1393" rx="25" ry="15"/><text x="497" y="1398">NAD+</text></g>
<g id="n051"><ellipse cx="455" cy="1415" rx="20" ry="15"/><text x="455" y="1420">H2O</text></g>
<g id="n052"><ellipse cx="385" cy="1502" rx="16" ry="15"/><text x="385" y="1507">H+</text></g>
<g id="n053"><ellipse cx="390" cy="1549" rx="25" ry="15"/><text x="390" y="1554">NADH</text></g>
<g id="n054"><ellipse cx="514" cy="1531" rx="19" ry="15"/><text x="514" y="1536">XMP</text></g>
<g id="n055"><ellipse cx="552" cy="1565" rx="19" ry="15"/><text x="552" y="1570">ATP</text></g>
<g id="n056"><ellipse cx="461" cy="1598" rx="24" ry="15"/><text x="461" y="1603">L-Gln</text></g>
<g id="n057"><ellipse cx="561" cy="1610" rx="20" ry="15"/><text x="561" y="1615">H2O</text></g>
<g id="n058"><ellipse cx="455" cy="1705" rx="24" ry="15"/><text x="455" y="1710">Glu</text></g>
<g id="n059"><ellipse cx="585" cy="1689" rx="16" ry="15"/><text x="585" y="1694">PPi</text></g>
<g id="n060"><ellipse cx="518" cy="1732" rx="20" ry="15"/><text x="518" y="1737">GMP</text></g>
<g id="g001"><rect class="gr" x="397" y="1452" width="79" height="29"/><text x="436" y="1465">IMPDH<tspan x="436" dy="14">tetramers</tspan></text></g>
<g id="p003"><rect class="gr" x="433" y="1641" width="55" height="31" rx="5"/><text x="460" y="1661">GMPS</text></g>
<g id="n061"><ellipse cx="754" cy="1343" rx="18" ry="15"/><text x="754" y="1348">GTP</text></g>
<g id="n062"><ellipse cx="856" cy="1360" rx="33" ry="15"/><text x="856" y="1365">L-Asp</text></g>
<g id="n063"><ellipse cx="842" cy="1421" rx="22" ry="15"/><text x="842" y="1426">ADS</text></g>
<g id="n064"><ellipse cx="852" cy="1458" rx="19" ry="15"/><text x="852" y="1463">GDP</text></g>
<g id="n065"><ellipse cx="933" cy="1482" rx="54" ry="26"/><text x="933" y="1480">D-Fructose 1,6-<tspan x="933" dy="14">bisphosphate</tspan></text></g>
<g id="n066"><ellipse cx="847" cy="1508" rx="20" ry="15"/><text x="847" y="1513">GMP</text></g>
<g id="n067"><ellipse cx="685" cy="1570" rx="13" ry="15"/><text x="685" y="1575">Pi</text></g>
<g id="n068"><ellipse cx="751" cy="1578" rx="19" ry="15"/><text x="751" y="1583">GDP</text></g>
<g id="n069"><ellipse cx="821" cy="1576" rx="22" ry="15"/><text x="821" y="1581">ADS</text></g>
<g id="g002"><rect class="gr" x="647" y="1453" width="66" height="49"/><text x="680" y="1466">ADSS,<tspan x="680" dy="14">ADSSL1</tspan><tspan x="680" dy="14">dimers</tspan></text></g>
<g id="n070"><ellipse cx="652" cy="1632" rx="32" ry="15"/><text x="652" y="1637">FUMA</text></g>
<g id="c007"><path class="cx" d="M725,1661h106l5,5v26l-5,5h-106l-5,-5v-26z"/><text x="778" y="1677">adenylosuccinate<tspan x="778" dy="14">lyase tetramer</tspan></text></g>
<g id="n071"><ellipse cx="671" cy="1823" rx="20" ry="15"/><text x="671" y="1828">AMP</text></g>
<g id="n072"><ellipse cx="741" cy="1730" rx="28" ry="15"/><text x="741" y="1735">Ade</text></g>
<g id="n073"><ellipse cx="839" cy="1726" rx="20" ry="15"/><text x="839" y="1731">PRPP</text></g>
<g id="c008"><path class="cx" d="M829,1755h109l5,5v11l-5,5h-109l-5,-5v-11z"/><text x="883" y="1770">APRT homodimer</text></g>
<g id="n074"><ellipse cx="842" cy="1809" rx="16" ry="15"/><text x="842" y="1814">PPi</text></g>
<g id="n075"><ellipse cx="572" cy="1834" rx="42" ry="18"/><text x="572" y="1832">N6-methyl-<tspan x="572" dy="14">AMP</tspan></text></g>
<g id="n076"><ellipse cx="731" cy="1846" rx="20" ry="15"/><text x="731" y="1851">H2O</text></g>
<g id="c009"><path class="cx" d="M549,1880h49l5,5v11l-5,5h-49l-5,-5v-11z"/><text x="573" y="1895">ADAL:Zn</text></g>
<g id="g003"><rect class="gr" x="706" y="1874" width="78" height="32"/><text x="745" y="1888">AMPD<tspan x="745" dy="14">tetramers</tspan></text></g>
<g id="n077"><ellipse cx="573" cy="1935" rx="25" ry="22"/><text x="573" y="1933">methyl<tspan x="573" dy="14">amine</tspan></text></g>
<g id="n078"><ellipse cx="639" cy="1947" rx="17" ry="15"/><text x="639" y="1952">IMP</text></g>
<g id="n079"><ellipse cx="718" cy="1949" rx="25" ry="15"/><text x="718" y="1954">NH4+</text></g>
<g id="n080"><ellipse cx="380" cy="1874" rx="20" ry="15"/><text x="380" y="1879">PRPP</text></g>
<g id="n081"><ellipse cx="473" cy="1869" rx="45" ry="22"/><text x="473" y="1867">guanine,<tspan x="473" dy="14">hypoxanthine</tspan></text></g>
<g id="c010"><path class="cx" d="M301,1912h87l5,5v28l-5,5h-87l-5,-5v-28z"/><text x="344" y="1929">HGPRT<tspan x="344" dy="14">homotetramer</tspan></text></g>
<g id="n082"><ellipse cx="382" cy="1977" rx="16" ry="15"/><text x="382" y="1982">PPi</text></g>
<g id="n083"><ellipse cx="477" cy="1979" rx="34" ry="15"/><text x="477" y="1984">GMP, IMP</text></g>
<g id="n084"><ellipse cx="587" cy="2031" rx="54" ry="36"/><text x="587" y="2015">ribose 1-<tspan x="587" dy="14">phosphate,</tspan><tspan x="587" dy="14">deoxyribose 1-</tspan><tspan x="587" dy="14">phosphate</tspan></text></g>
<g id="n085"><ellipse cx="490" cy="2056" rx="29" ry="15"/><text x="490" y="2061">Gua</text></g>
<g id="n086"><ellipse cx="690" cy="2058" rx="25" ry="15"/><text x="690" y="2063">Hyp</text></g>
<g id="c011"><path class="cx" d="M558,2094h45l5,5v24l-5,5h-45l-5,-5v-24z"/><text x="580" y="2109">NP<tspan x="580" dy="14">trimer</tspan></text></g>
<g id="n087"><ellipse cx="482" cy="2171" rx="24" ry="15"/><text x="482" y="2176">G, dG</text></g>
<g id="n088"><ellipse cx="579" cy="2168" rx="13" ry="15"/><text x="579" y="2173">Pi</text></g>
<g id="n089"><ellipse cx="688" cy="2185" rx="67" ry="15"/><text x="688" y="2190">inosine, deoxyinosine</text></g>
<g id="n100"><ellipse cx="790" cy="91" rx="20" ry="15"/><text x="790" y="96">H2O</text></g>
<g id="n101"><ellipse cx="850" cy="74" rx="19" ry="15"/><text x="850" y="79">ATP</text></g>
<g id="n102"><ellipse cx="899" cy="113" rx="28" ry="15"/><text x="899" y="118">HCO3-</text></g>
<g id="n103"><ellipse cx="762" cy="225" rx="13" ry="15"/><text x="762" y="230">Pi</text></g>
<g id="n104"><ellipse cx="881" cy="222" rx="19" ry="15"/><text x="881" y="227">ADP</text></g>
<g id="n105"><ellipse cx="842" cy="260" rx="22" ry="15"/><text x="842" y="265">CAP</text></g>
<g id="n106"><ellipse cx="766" cy="289" rx="39" ry="15"/><text x="766" y="294">L-Asp</text></g>
<g id="n107"><ellipse cx="770" cy="350" rx="13" ry="15"/><text x="770" y="355">Pi</text></g>
<g id="n108"><ellipse cx="843" cy="388" rx="52" ry="22"/><text x="843" y="386">N-carbamoyl-L-<tspan x="843" dy="14">aspartate</tspan></text></g>
<g id="n109"><ellipse cx="786" cy="422" rx="16" ry="15"/><text x="786" y="427">H+</text></g>
<g id="n110"><ellipse cx="799" cy="481" rx="20" ry="15"/><text x="799" y="486">H2O</text></g>
<g id="n111"><ellipse cx="843" cy="526" rx="60" ry="15"/><text x="843" y="531">(S)-dihydroorotate</text></g>
<g id="n112"><ellipse cx="786" cy="565" rx="39" ry="15"/><text x="786" y="570">CoQ</text></g>
<g id="n113"><ellipse cx="785" cy="619" rx="33" ry="15"/><text x="785" y="624">QH2</text></g>
<g id="n114"><ellipse cx="844" cy="657" rx="30" ry="15"/><text x="844" y="662">orotate</text></g>
<g id="n115"><ellipse cx="770" cy="674" rx="20" ry="15"/><text x="770" y="679">PRPP</text></g>
<g id="n116"><ellipse cx="777" cy="744" rx="15" ry="15"/><text x="777" y="749">PPi</text></g>
<g id="n117"><ellipse cx="843" cy="795" rx="52" ry="22"/><text x="843" y="793">orotidine 5'-<tspan x="843" dy="14">monophosphate</tspan></text></g>
<g id="n118"><ellipse cx="785" cy="860" rx="20" ry="15"/><text x="785" y="865">CO2</text></g>
<g id="n119"><ellipse cx="842" cy="898" rx="20" ry="15"/><text x="842" y="903">UMP</text></g>
<g id="c012"><path class="cx" d="M891,312h84l5,5v11l-5,5h-84l-5,-5v-11z"/><text x="933" y="327">CAD hexamer</text></g>
<g id="c013"><path class="cx" d="M892,571h83l5,5v41l-5,5h-83l-5,-5v-41z"/><text x="933" y="587">dihydroorotate<tspan x="933" dy="14">dehydrogenas</tspan><tspan x="933" dy="14">e holoenzyme</tspan></text></g>
<g id="c014"><path class="cx" d="M917,769h44l5,5v25l-5,5h-44l-5,-5v-25z"/><text x="939" y="785">UMPS<tspan x="939" dy="14">dimer</tspan></text></g>
<g id="n120"><ellipse cx="804" cy="947" rx="20" ry="15"/><text x="804" y="952">dCMP</text></g>
<g id="n121"><ellipse cx="887" cy="947" rx="20" ry="15"/><text x="887" y="952">H2O</text></g>
<g id="c015"><path class="cx" d="M881,991h107l5,5v12l-5,5h-107l-5,-5v-12z"/><text x="934" y="1007">DCTD hexamer</text></g>
<g id="n122"><ellipse cx="899" cy="1046" rx="20" ry="15"/><text x="899" y="1051">NH3</text></g>
<g id="n123"><ellipse cx="802" cy="1055" rx="23" ry="15"/><text x="802" y="1060">dUMP</text></g>
<g id="n124"><ellipse cx="897" cy="1088" rx="28" ry="15"/><text x="897" y="1093">THF</text></g>
<g id="c016"><path class="cx" d="M885,1139h62l5,5v7l-5,5h-62l-5,-5v-7z"/><text x="916" y="1152">TS dimer</text></g>
<g id="n125"><ellipse cx="901" cy="1206" rx="24" ry="18"/><text x="901" y="1211">DHF</text></g>
<g id="n126"><ellipse cx="797" cy="1211" rx="20" ry="15"/><text x="797" y="1216">TMP</text></g>
<g id="n130"><ellipse cx="1067" cy="135" rx="20" ry="15"/><text x="1067" y="140">AMP</text></g>
<g id="n131"><ellipse cx="1130" cy="135" rx="20" ry="15"/><text x="1130" y="140">H2O</text></g>
<g id="n132"><ellipse cx="1025" cy="191" rx="20" ry="15"/><text x="1025" y="196">ADP</text></g>
<g id="p004"><rect class="gr" x="1119" y="171" width="105" height="40" rx="5"/><text x="1171" y="189">5'-nucleotidase<tspan x="1171" dy="14">cytosolic IB</tspan></text></g>
<g id="n133"><ellipse cx="1043" cy="246" rx="13" ry="15"/><text x="1043" y="251">Pi</text></g>
<g id="n134"><ellipse cx="1142" cy="250" rx="35" ry="15"/><text x="1142" y="255">Ade-Rib</text></g>
<g id="n135"><ellipse cx="1324" cy="118" rx="53" ry="29"/><text x="1324" y="116">(d)AMP, (d)GMP,<tspan x="1324" dy="14">(d)IMP</tspan></text></g>
<g id="n136"><ellipse cx="1406" cy="131" rx="20" ry="15"/><text x="1406" y="136">H2O</text></g>
<g id="c017"><path class="cx" d="M1256,180h67l5,5v22l-5,5h-67l-5,-5v-22z"/><text x="1289" y="194">NT5C1A<tspan x="1289" dy="14">tetramer</tspan></text></g>
<g id="n137"><ellipse cx="1421" cy="199" rx="20" ry="15"/><text x="1421" y="204">ADP</text></g>
<g id="n138"><ellipse cx="1313" cy="268" rx="50" ry="15"/><text x="1313" y="273">(d)A, (d)G, (d)I</text></g>
<g id="n139"><ellipse cx="1405" cy="268" rx="13" ry="15"/><text x="1405" y="273">Pi</text></g>
<g id="n140"><ellipse cx="1222" cy="364" rx="25" ry="15"/><text x="1222" y="369">G, dG</text></g>
<g id="n141"><ellipse cx="1329" cy="372" rx="13" ry="16"/><text x="1329" y="377">Pi</text></g>
<g id="n142"><ellipse cx="1458" cy="356" rx="67" ry="15"/><text x="1458" y="361">inosine, deoxyinosine</text></g>
<g id="c018"><path class="cx" d="M1300,423h60l5,5v11l-5,5h-60l-5,-5v-11z"/><text x="1330" y="438">NP trimer</text></g>
<g id="n143"><ellipse cx="1330" cy="496" rx="61" ry="37"/><text x="1330" y="480">ribose 1-<tspan x="1330" dy="14">phosphate,</tspan><tspan x="1330" dy="14">deoxyribose 1-</tspan><tspan x="1330" dy="14">phosphate</tspan></text></g>
<g id="n144"><ellipse cx="1251" cy="556" rx="29" ry="15"/><text x="1251" y="561">Gua</text></g>
<g id="n145"><ellipse cx="1410" cy="563" rx="28" ry="15"/><text x="1410" y="568">Hyp</text></g>
<g id="n146"><ellipse cx="1190" cy="563" rx="20" ry="15"/><text x="1190" y="568">H2O</text></g>
<g id="c019"><path class="cx" d="M1107,595h104l5,5v35l-5,5h-104l-5,-5v-35z"/><text x="1159" y="608">Guanine<tspan x="1159" dy="14">deaminase</tspan><tspan x="1159" dy="14">homodimer</tspan></text></g>
<g id="n147"><ellipse cx="1224" cy="681" rx="20" ry="15"/><text x="1224" y="686">NH3</text></g>
<g id="n148"><ellipse cx="1368" cy="601" rx="20" ry="15"/><text x="1368" y="606">H2O</text></g>
<g id="n149"><ellipse cx="1462" cy="601" rx="16" ry="15"/><text x="1462" y="606">O2</text></g>
<g id="n150"><ellipse cx="1453" cy="673" rx="25" ry="15"/><text x="1453" y="678">H2O2</text></g>
<g id="n151"><ellipse cx="1414" cy="709" rx="31" ry="15"/><text x="1414" y="714">XAN</text></g>
<g id="c020"><path class="cx" d="M1516,688h57l5,5v25l-5,5h-57l-5,-5v-25z"/><text x="1544" y="704">XDH<tspan x="1544" dy="14">dimer</tspan></text></g>
<g id="n152"><ellipse cx="1368" cy="744" rx="20" ry="15"/><text x="1368" y="749">H2O</text></g>
<g id="n153"><ellipse cx="1462" cy="740" rx="16" ry="15"/><text x="1462" y="745">O2</text></g>
<g id="n154"><ellipse cx="1395" cy="852" rx="23" ry="15"/><text x="1395" y="857">Urate</text></g>
<g id="n155"><ellipse cx="1563" cy="834" rx="25" ry="15"/><text x="1563" y="839">H2O2</text></g>
<g id="n160"><ellipse cx="1623" cy="136" rx="20" ry="15"/><text x="1623" y="141">ADP</text></g>
<g id="n161"><ellipse cx="1590" cy="172" rx="27" ry="19"/><text x="1590" y="177">CDP</text></g>
<g id="n162"><ellipse cx="1599" cy="224" rx="26" ry="18"/><text x="1599" y="229">UDP</text></g>
<g id="n163"><ellipse cx="1621" cy="273" rx="20" ry="15"/><text x="1621" y="278">GDP</text></g>
<g id="n164"><ellipse cx="1712" cy="139" rx="20" ry="15"/><text x="1712" y="144">ADP</text></g>
<g id="n165"><ellipse cx="1741" cy="173" rx="25" ry="20"/><text x="1741" y="178">CDP</text></g>
<g id="n166"><ellipse cx="1731" cy="225" rx="28" ry="18"/><text x="1731" y="230">U5DP</text></g>
<g id="n167"><ellipse cx="1711" cy="273" rx="20" ry="15"/><text x="1711" y="278">GDP</text></g>
<g id="n170"><ellipse cx="1851" cy="150" rx="22" ry="15"/><text x="1851" y="155">dIDP</text></g>
<g id="n171"><ellipse cx="1939" cy="165" rx="20" ry="15"/><text x="1939" y="170">H2O</text></g>
<g id="n172"><ellipse cx="2050" cy="153" rx="18" ry="15"/><text x="2050" y="158">IDP</text></g>
<g id="c021"><path class="cx" d="M1914,190h61l5,5v30l-5,5h-61l-5,-5v-30z"/><text x="1944" y="208">NUDT16<tspan x="1944" dy="14">dimer</tspan></text></g>
<g id="n173"><ellipse cx="1944" cy="248" rx="25" ry="15"/><text x="1944" y="253">Mg2+</text></g>
<g id="n174"><ellipse cx="1850" cy="290" rx="22" ry="15"/><text x="1850" y="295">dIMP</text></g>
<g id="n175"><ellipse cx="1947" cy="286" rx="13" ry="15"/><text x="1947" y="291">Pi</text></g>
<g id="n176"><ellipse cx="2028" cy="293" rx="18" ry="15"/><text x="2028" y="298">IMP</text></g>
<g id="n177"><ellipse cx="2104" cy="280" rx="23" ry="15"/><text x="2104" y="285">dUTP</text></g>
<g id="n178"><ellipse cx="2148" cy="314" rx="20" ry="15"/><text x="2148" y="319">H2O</text></g>
<g id="c022"><path class="cx" d="M1999,330h67l5,5v12l-5,5h-67l-5,-5v-12z"/><text x="2032" y="346">DUT trimer</text></g>
<g id="n179"><ellipse cx="2152" cy="379" rx="16" ry="15"/><text x="2152" y="384">PPi</text></g>
<g id="n180"><ellipse cx="2103" cy="405" rx="23" ry="15"/><text x="2103" y="410">dUMP</text></g>
<g id="n181"><ellipse cx="2270" cy="169" rx="47" ry="22"/><text x="2270" y="167">dADP, dGDP,<tspan x="2270" dy="14">dCDP, dUDP</tspan></text></g>
<g id="p005"><rect class="gr" x="2346" y="144" width="92" height="43" rx="5"/><text x="2392" y="162">thioredoxin,<tspan x="2392" dy="14">oxidized</tspan></text><use href="#hcb" x="2439" y="156"/><use href="#hcb" x="2378" y="188"/></g>
<g id="c023"><path class="cx" d="M2159,233h120l5,5v48l-5,5h-120l-5,-5v-48z"/><text x="2219" y="246">ribonucleotide<tspan x="2219" dy="14">reductase M2B</tspan><tspan x="2219" dy="14">(TP53 inducible)</tspan><tspan x="2219" dy="14">variant</tspan></text></g>
<g id="n182"><ellipse cx="2360" cy="253" rx="20" ry="15"/><text x="2360" y="258">H2O</text></g>
<g id="p006"><rect class="gr" x="2197" y="339" width="80" height="22" rx="5"/><text x="2237" y="355">Thioredoxin</text></g>
<g id="n183"><ellipse cx="2356" cy="343" rx="41" ry="20"/><text x="2356" y="341">ADP, GDP,<tspan x="2356" dy="14">CDP, UDP</tspan></text></g>
<g id="p007"><rect class="gr" x="2361" y="509" width="103" height="39" rx="5"/><text x="2412" y="526">Thioredoxin,<tspan x="2412" dy="14">oxidized</tspan></text><use href="#hcb" x="2463" y="526"/><use href="#hcb" x="2377" y="547"/></g>
<g id="n184"><ellipse cx="2460" cy="473" rx="16" ry="15"/><text x="2460" y="478">H+</text></g>
<g id="p008"><rect class="gr" x="2377" y="601" width="85" height="22" rx="5"/><text x="2419" y="617">Thioredoxin</text></g>
<g id="n185"><ellipse cx="2566" cy="475" rx="28" ry="15"/><text x="2566" y="480">NADPH</text></g>
<g id="c024"><path class="cx" d="M2559,525h79l5,5v37l-5,5h-79l-5,-5v-37z"/><text x="2598" y="539">thioredoxin<tspan x="2598" dy="14">reductase</tspan><tspan x="2598" dy="14">holoenzyme</tspan></text></g>
<g id="n186"><ellipse cx="2576" cy="605" rx="28" ry="15"/><text x="2576" y="610">NADP+</text></g>
<g id="n190"><ellipse cx="1695" cy="610" rx="24" ry="15"/><text x="1695" y="615">H2O2</text></g>
<g id="c025"><path class="cx" d="M1724,651h55l5,5v29l-5,5h-55l-5,-5v-29z"/><text x="1751" y="668">CAT<tspan x="1751" dy="14">tetramer</tspan></text></g>
<g id="n191"><ellipse cx="1756" cy="728" rx="20" ry="15"/><text x="1756" y="733">H2O</text></g>
<g id="n192"><ellipse cx="1693" cy="754" rx="18" ry="15"/><text x="1693" y="759">O2</text></g>
<g id="n193"><ellipse cx="1922" cy="502" rx="20" ry="15"/><text x="1922" y="507">H2O</text></g>
<g id="n194"><ellipse cx="2020" cy="499" rx="50" ry="15"/><text x="2020" y="504">(d)GMP, (d)IMP</text></g>
<g id="c026"><path class="cx" d="M1853,555h64l5,5v23l-5,5h-64l-5,-5v-23z"/><text x="1885" y="569">NT5C<tspan x="1885" dy="14">dimer</tspan></text></g>
<g id="c027"><path class="cx" d="M2007,549h57l5,5v30l-5,5h-57l-5,-5v-30z"/><text x="2035" y="567">NT5C2<tspan x="2035" dy="14">tetramer</tspan></text></g>
<g id="n195"><ellipse cx="1920" cy="650" rx="13" ry="15"/><text x="1920" y="655">Pi</text></g>
<g id="n196"><ellipse cx="2038" cy="648" rx="61" ry="22"/><text x="2038" y="646">(deoxy)guanosine,<tspan x="2038" dy="14">(deoxy)inosine</tspan></text></g>
<g id="n197"><ellipse cx="1872" cy="725" rx="20" ry="15"/><text x="1872" y="730">ADP</text></g>
<g id="n198"><ellipse cx="2052" cy="725" rx="26" ry="15"/><text x="2052" y="730">(d)NTP</text></g>
<g id="g004"><rect class="gr" x="1903" y="772" width="118" height="49"/><text x="1962" y="787">nucleotide<tspan x="1962" dy="14">diphosphate</tspan><tspan x="1962" dy="14">kinase hexamer</tspan></text></g>
<g id="n199"><ellipse cx="1871" cy="863" rx="20" ry="15"/><text x="1871" y="868">ATP</text></g>
<g id="n200"><ellipse cx="2055" cy="863" rx="27" ry="15"/><text x="2055" y="868">(d)NDP</text></g>
<g id="n201"><ellipse cx="2222" cy="621" rx="20" ry="15"/><text x="2222" y="626">H2O</text></g>
<g id="n202"><ellipse cx="2146" cy="732" rx="46" ry="22"/><text x="2146" y="730">dADP, dGDP,<tspan x="2146" dy="14">dCDP, dUDP</tspan></text></g>
<g id="c028"><path class="cx" d="M2215,715h80l5,5v25l-5,5h-80l-5,-5v-25z"/><text x="2255" y="731">ribonucleotide<tspan x="2255" dy="14">reductase</tspan></text></g>
<g id="n203"><ellipse cx="2331" cy="737" rx="23" ry="15"/><text x="2331" y="742">dATP</text></g>
<g id="n204"><ellipse cx="2428" cy="735" rx="20" ry="15"/><text x="2428" y="740">ATP</text></g>
<g id="n205"><ellipse cx="2516" cy="731" rx="41" ry="20"/><text x="2516" y="729">ADP, GDP,<tspan x="2516" dy="14">CDP, UDP</tspan></text></g>
<g id="p009"><rect class="gr" x="2113" y="794" width="110" height="52" rx="5"/><text x="2168" y="808">glutaredoxin<tspan x="2168" dy="14">(thioltransferase),</tspan><tspan x="2168" dy="14">oxidized</tspan></text><use href="#hcb" x="2133" y="845"/><use href="#hcb" x="2205" y="845"/></g>
<g id="n206"><ellipse cx="2229" cy="883" rx="20" ry="15"/><text x="2229" y="888">H2O</text></g>
<g id="p010"><rect class="gr" x="2404" y="862" width="89" height="23" rx="5"/><text x="2448" y="878">Glutaredoxin</text></g>
<g id="n207"><ellipse cx="2086" cy="960" rx="19" ry="15"/><text x="2086" y="965">GSH</text></g>
<g id="n208"><ellipse cx="2452" cy="957" rx="23" ry="15"/><text x="2452" y="962">GSSG</text></g>
<g id="n209"><ellipse cx="2141" cy="1028" rx="27" ry="15"/><text x="2141" y="1033">NADP+</text></g>
<g id="n210"><ellipse cx="2389" cy="1003" rx="27" ry="15"/><text x="2389" y="1008">NADPH</text></g>
<g id="n211"><ellipse cx="2345" cy="1034" rx="16" ry="15"/><text x="2345" y="1039">H+</text></g>
<g id="c029"><path class="cx" d="M2183,1033h106l5,5v35l-5,5h-106l-5,-5v-35z"/><text x="2236" y="1046">glutathione<tspan x="2236" dy="14">reductase</tspan><tspan x="2236" dy="14">holoenzyme</tspan></text></g>
<g id="c030"><path class="cx" d="M2125,1184h74l5,5v24l-5,5h-74l-5,-5v-24z"/><text x="2162" y="1199">GPX1<tspan x="2162" dy="14">tetramer</tspan></text></g>
<g id="n212"><ellipse cx="2414" cy="1145" rx="20" ry="15"/><text x="2414" y="1150">H2O</text></g>
<g id="n220"><ellipse cx="1799" cy="1006" rx="71" ry="53"/><text x="1799" y="976">thymidine<tspan x="1799" dy="14">monophosphate,</tspan><tspan x="1799" dy="14">uridine 2', 3', 5'</tspan><tspan x="1799" dy="14">monophosphates,</tspan><tspan x="1799" dy="14">deoxyuridine 3', 5'</tspan><tspan x="1799" dy="14">monophosphate</tspan></text></g>
<g id="n221"><ellipse cx="1673" cy="1045" rx="20" ry="15"/><text x="1673" y="1050">H2O</text></g>
<g id="c031"><path class="cx" d="M1635,1086h64l5,5v25l-5,5h-64l-5,-5v-25z"/><text x="1667" y="1102">NT5C<tspan x="1667" dy="14">dimer</tspan></text></g>
<g id="n222"><ellipse cx="1677" cy="1177" rx="13" ry="15"/><text x="1677" y="1182">Pi</text></g>
<g id="n223"><ellipse cx="1784" cy="1192" rx="59" ry="22"/><text x="1784" y="1190">thymidine, (deoxy)<tspan x="1784" dy="14">uridine</tspan></text></g>
<g id="n230"><ellipse cx="1104" cy="911" rx="86" ry="36"/><text x="1104" y="902">TMP, (d)UMP, uridine 2'<tspan x="1104" dy="14">monophosphate, uridine 3'</tspan><tspan x="1104" dy="14">monophosphate</tspan></text></g>
<g id="n231"><ellipse cx="1267" cy="942" rx="20" ry="15"/><text x="1267" y="947">H2O</text></g>
<g id="c032"><path class="cx" d="M1246,993h73l5,5v15l-5,5h-73l-5,-5v-15z"/><text x="1282" y="1010">NT5M dimer</text></g>
<g id="n232"><ellipse cx="1147" cy="1099" rx="62" ry="22"/><text x="1147" y="1097">thymidine, uridine,<tspan x="1147" dy="14">deoxyuridine</tspan></text></g>
<g id="n233"><ellipse cx="1274" cy="1095" rx="13" ry="15"/><text x="1274" y="1100">Pi</text></g>
<g id="n234"><ellipse cx="1440" cy="929" rx="48" ry="20"/><text x="1440" y="927">(d)CMP, TMP,<tspan x="1440" dy="14">(d)UMP</tspan></text></g>
<g id="n235"><ellipse cx="1541" cy="927" rx="20" ry="15"/><text x="1541" y="932">H2O</text></g>
<g id="c033"><path class="cx" d="M1367,982h79l5,5v27l-5,5h-79l-5,-5v-27z"/><text x="1406" y="998">NT5C3<tspan x="1406" dy="14">holoenzyme</tspan></text></g>
<g id="c034"><path class="cx" d="M1542,965h94l5,5v23l-5,5h-94l-5,-5v-23z"/><text x="1589" y="980">NT5C1A<tspan x="1589" dy="14">tetramer</tspan></text></g>
<g id="n236"><ellipse cx="1572" cy="1034" rx="20" ry="15"/><text x="1572" y="1039">ADP</text></g>
<g id="n237"><ellipse cx="1420" cy="1098" rx="59" ry="22"/><text x="1420" y="1089">(deoxy)cytidine,<tspan x="1420" dy="14">thymidine, (deoxy)</tspan><tspan x="1420" dy="14">uridine</tspan></text></g>
<g id="n238"><ellipse cx="1549" cy="1096" rx="13" ry="15"/><text x="1549" y="1101">Pi</text></g>
<g id="n240"><ellipse cx="1108" cy="1188" rx="13" ry="15"/><text x="1108" y="1193">Pi</text></g>
<g id="n241"><ellipse cx="1201" cy="1185" rx="47" ry="15"/><text x="1201" y="1190">(deoxy)uridine</text></g>
<g id="g005"><rect class="gr" x="1175" y="1236" width="101" height="33"/><text x="1225" y="1250">uridine<tspan x="1225" dy="14">phosphorylase</tspan></text></g>
<g id="n242"><ellipse cx="1059" cy="1333" rx="86" ry="29"/><text x="1059" y="1331">ribose 1-phosphate,<tspan x="1059" dy="14">deoxyribose 1-phosphate</tspan></text></g>
<g id="n243"><ellipse cx="1191" cy="1331" rx="23" ry="15"/><text x="1191" y="1336">Ura</text></g>
<g id="n244"><ellipse cx="1390" cy="1200" rx="13" ry="15"/><text x="1390" y="1205">Pi</text></g>
<g id="n245"><ellipse cx="1493" cy="1197" rx="43" ry="22"/><text x="1493" y="1195">thymidine,<tspan x="1493" dy="14">deoxyuridine</tspan></text></g>
<g id="c035"><path class="cx" d="M1353,1252h44l5,5v26l-5,5h-44l-5,-5v-26z"/><text x="1375" y="1268">TYMP<tspan x="1375" dy="14">dimer</tspan></text></g>
<g id="n246"><ellipse cx="1378" cy="1337" rx="40" ry="23"/><text x="1378" y="1342">dRibP</text></g>
<g id="n247"><ellipse cx="1507" cy="1329" rx="48" ry="15"/><text x="1507" y="1334">thymine, uracil</text></g>
<g id="n248"><ellipse cx="1153" cy="1372" rx="16" ry="15"/><text x="1153" y="1377">H+</text></g>
<g id="n249"><ellipse cx="1240" cy="1370" rx="28" ry="15"/><text x="1240" y="1375">NADPH</text></g>
<g id="c036"><path class="cx" d="M1030,1402h61l5,5v23l-5,5h-61l-5,-5v-23z"/><text x="1060" y="1417">DPYD<tspan x="1060" dy="14">dimer</tspan></text></g>
<g id="n250"><ellipse cx="1244" cy="1449" rx="28" ry="15"/><text x="1244" y="1454">NADP+</text></g>
<g id="n251"><ellipse cx="1191" cy="1503" rx="58" ry="15"/><text x="1191" y="1508">5,6-Dihydrouracil</text></g>
<g id="n252"><ellipse cx="1007" cy="1617" rx="30" ry="15"/><text x="1007" y="1622">Thy</text></g>
<g id="n253"><ellipse cx="974" cy="1664" rx="28" ry="15"/><text x="974" y="1669">NADPH</text></g>
<g id="n254"><ellipse cx="1003" cy="1728" rx="16" ry="15"/><text x="1003" y="1733">H+</text></g>
<g id="n255"><ellipse cx="1106" cy="1658" rx="28" ry="15"/><text x="1106" y="1663">NADP+</text></g>
<g id="n256"><ellipse cx="1146" cy="1737" rx="64" ry="15"/><text x="1146" y="1742">5,6-Dihydrothymine</text></g>
<g id="n257"><ellipse cx="1134" cy="1617" rx="20" ry="15"/><text x="1134" y="1622">H2O</text></g>
<g id="c037"><path class="cx" d="M1175,1600h120l5,5v25l-5,5h-120l-5,-5v-25z"/><text x="1235" y="1616">Dihydropyriminidase<tspan x="1235" dy="14">-Zn complex</tspan></text></g>
<g id="n258"><ellipse cx="1328" cy="1551" rx="32" ry="17"/><text x="1328" y="1556">UPROP</text></g>
<g id="n259"><ellipse cx="1332" cy="1699" rx="30" ry="21"/><text x="1332" y="1704">UIBA</text></g>
<g id="n260"><ellipse cx="1375" cy="1610" rx="20" ry="15"/><text x="1375" y="1615">H2O</text></g>
<g id="c038"><path class="cx" d="M1412,1590h108l5,5v39l-5,5h-108l-5,-5v-39z"/><text x="1466" y="1605">3-<tspan x="1466" dy="14">ureidopropionase-</tspan><tspan x="1466" dy="14">Zn complex</tspan></text></g>
<g id="n261"><ellipse cx="1564" cy="1610" rx="25" ry="18"/><text x="1564" y="1615">NH4+</text></g>
<g id="n262"><ellipse cx="1615" cy="1610" rx="20" ry="17"/><text x="1615" y="1615">CO2</text></g>
<g id="n263"><ellipse cx="1610" cy="1552" rx="31" ry="15"/><text x="1610" y="1557">b-Ala</text></g>
<g id="n264"><ellipse cx="1606" cy="1692" rx="25" ry="21"/><text x="1606" y="1697">3AIB</text></g>
<g id="n270"><ellipse cx="1811" cy="1552" rx="31" ry="15"/><text x="1811" y="1557">b-Ala</text></g>
<g id="n271"><ellipse cx="1799" cy="1693" rx="26" ry="21"/><text x="1799" y="1698">3AIB</text></g>
<g id="n272"><ellipse cx="1877" cy="1622" rx="30" ry="15"/><text x="1877" y="1627">PYR</text></g>
<g id="c039"><path class="cx" d="M1934,1600h57l5,5v23l-5,5h-57l-5,-5v-23z"/><text x="1962" y="1614">AGXT2<tspan x="1962" dy="14">tetramer</tspan></text></g>
<g id="n273"><ellipse cx="2057" cy="1622" rx="34" ry="15"/><text x="2057" y="1627">L-Ala</text></g>
<g id="n274"><ellipse cx="2128" cy="1557" rx="42" ry="17"/><text x="2128" y="1562">OPROP</text></g>
<g id="n275"><ellipse cx="2125" cy="1693" rx="49" ry="22"/><text x="2125" y="1691">2-Methyl-3-<tspan x="2125" dy="14">oxopropanoate</tspan></text></g>
<g id="n276"><ellipse cx="1736" cy="1324" rx="38" ry="16"/><text x="1736" y="1329">dA, dG, dI</text></g>
<g id="n277"><ellipse cx="1829" cy="1322" rx="20" ry="16"/><text x="1829" y="1327">ATP</text></g>
<g id="n278"><ellipse cx="2011" cy="1329" rx="49" ry="30"/><text x="2011" y="1320">deoxycytidine,<tspan x="2011" dy="14">thymidine,</tspan><tspan x="2011" dy="14">deoxyuridine</tspan></text></g>
<g id="c040"><path class="cx" d="M1790,1357h111l5,5v24l-5,5h-111l-5,-5v-24z"/><text x="1845" y="1372">deoxyguanosine<tspan x="1845" dy="14">kinase holoenzyme</tspan></text></g>
<g id="p011"><rect class="gr" x="1953" y="1365" width="35" height="20" rx="5"/><text x="1970" y="1380">TK2</text></g>
<g id="n279"><ellipse cx="1741" cy="1435" rx="47" ry="22"/><text x="1741" y="1433">dAMP, dGMP,<tspan x="1741" dy="14">dIMP</tspan></text></g>
<g id="n280"><ellipse cx="1838" cy="1428" rx="19" ry="15"/><text x="1838" y="1433">ADP</text></g>
<g id="n281"><ellipse cx="1984" cy="1427" rx="60" ry="15"/><text x="1984" y="1432">dCMP, TMP, dUMP</text></g>
<g id="n282"><ellipse cx="2110" cy="1318" rx="20" ry="15"/><text x="2110" y="1323">ADP</text></g>
<g id="n283"><ellipse cx="2234" cy="1317" rx="27" ry="15"/><text x="2234" y="1322">(d)NTP</text></g>
<g id="c041"><path class="cx" d="M2144,1366h52l5,5v24l-5,5h-52l-5,-5v-24z"/><text x="2170" y="1381">NME4<tspan x="2170" dy="14">hexamer</tspan></text></g>
<g id="n284"><ellipse cx="2110" cy="1445" rx="20" ry="15"/><text x="2110" y="1450">ATP</text></g>
<g id="n285"><ellipse cx="2233" cy="1446" rx="27" ry="15"/><text x="2233" y="1451">(d)NDP</text></g>
<g id="n286"><ellipse cx="2236" cy="1583" rx="20" ry="15"/><text x="2236" y="1588">H2O</text></g>
<g id="n287"><ellipse cx="2344" cy="1588" rx="53" ry="18"/><text x="2344" y="1593">ADP-D-ribose</text></g>
<g id="c042"><path class="cx" d="M2336,1637h40l5,5v11l-5,5h-40l-5,-5v-11z"/><text x="2356" y="1652">NUDT9</text></g>
<g id="n288"><ellipse cx="2236" cy="1721" rx="20" ry="15"/><text x="2236" y="1726">AMP</text></g>
<g id="n289"><ellipse cx="2321" cy="1717" rx="27" ry="17"/><text x="2321" y="1722">R5P</text></g>
<g id="n300"><ellipse cx="888" cy="1852" rx="19" ry="15"/><text x="888" y="1857">ATP</text></g>
<g id="n301"><ellipse cx="979" cy="1842" rx="52" ry="22"/><text x="979" y="1840">adenosine,<tspan x="979" dy="14">deoxyadenosine</tspan></text></g>
<g id="c043"><path class="cx" d="M806,1880h98l5,5v35l-5,5h-98l-5,-5v-35z"/><text x="855" y="1893">adenosine<tspan x="855" dy="14">kinase</tspan><tspan x="855" dy="14">holoenzyme</tspan></text></g>
<g id="n302"><ellipse cx="887" cy="1952" rx="19" ry="15"/><text x="887" y="1957">ADP</text></g>
<g id="n303"><ellipse cx="941" cy="1966" rx="28" ry="15"/><text x="941" y="1971">(d)AMP</text></g>
<g id="n304"><ellipse cx="1083" cy="1858" rx="20" ry="15"/><text x="1083" y="1863">H2O</text></g>
<g id="p012"><rect class="gr" x="1088" y="1882" width="83" height="33" rx="5"/><text x="1129" y="1896">Adenosine<tspan x="1129" dy="14">deaminase</tspan></text></g>
<g id="n305"><ellipse cx="1012" cy="1966" rx="20" ry="15"/><text x="1012" y="1971">NH3</text></g>
<g id="n306"><ellipse cx="1131" cy="1963" rx="67" ry="15"/><text x="1131" y="1968">inosine, deoxyinosine</text></g>
<g id="n307"><ellipse cx="990" cy="2013" rx="20" ry="15"/><text x="990" y="2018">GMP</text></g>
<g id="n308"><ellipse cx="937" cy="2033" rx="28" ry="15"/><text x="937" y="2038">NADPH</text></g>
<g id="n309"><ellipse cx="1034" cy="2032" rx="16" ry="15"/><text x="1034" y="2037">H+</text></g>
<g id="c044"><path class="cx" d="M841,2057h103l5,5v11l-5,5h-103l-5,-5v-11z"/><text x="892" y="2072">GMPR tetramers</text></g>
<g id="n310"><ellipse cx="936" cy="2110" rx="28" ry="15"/><text x="936" y="2115">NADP+</text></g>
<g id="n311"><ellipse cx="990" cy="2133" rx="17" ry="15"/><text x="990" y="2138">IMP</text></g>
<g id="n312"><ellipse cx="1041" cy="2112" rx="25" ry="15"/><text x="1041" y="2117">NH4+</text></g>
<g id="n313"><ellipse cx="1235" cy="1911" rx="28" ry="15"/><text x="1235" y="1916">dA, dG</text></g>
<g id="n314"><ellipse cx="1331" cy="1925" rx="19" ry="15"/><text x="1331" y="1930">ATP</text></g>
<g id="n315"><ellipse cx="1445" cy="1911" rx="49" ry="15"/><text x="1445" y="1916">(deoxy)cytidine</text></g>
<g id="c045"><path class="cx" d="M1301,1955h62l5,5v11l-5,5h-62l-5,-5v-11z"/><text x="1332" y="1970">DCK dimer</text></g>
<g id="n316"><ellipse cx="1244" cy="2031" rx="44" ry="15"/><text x="1244" y="2036">dAMP, dGMP</text></g>
<g id="n317"><ellipse cx="1330" cy="2001" rx="19" ry="15"/><text x="1330" y="2006">ADP</text></g>
<g id="n318"><ellipse cx="1416" cy="2032" rx="28" ry="15"/><text x="1416" y="2037">(d)CMP</text></g>
<g id="n319"><ellipse cx="1531" cy="1918" rx="20" ry="15"/><text x="1531" y="1923">H2O</text></g>
<g id="c046"><path class="cx" d="M1547,1958h57l5,5v23l-5,5h-57l-5,-5v-23z"/><text x="1575" y="1972">CDA<tspan x="1575" dy="14">tetramer</tspan></text></g>
<g id="n320"><ellipse cx="1472" cy="2031" rx="20" ry="15"/><text x="1472" y="2036">NH3</text></g>
<g id="n321"><ellipse cx="1589" cy="2031" rx="47" ry="15"/><text x="1589" y="2036">(deoxy)uridine</text></g>
<g id="n322"><ellipse cx="1617" cy="1893" rx="23" ry="15"/><text x="1617" y="1898">Ura</text></g>
<g id="n323"><ellipse cx="1739" cy="1894" rx="77" ry="34"/><text x="1739" y="1885">ribose 1-phosphate,<tspan x="1739" dy="14">deoxyribose 1-</tspan><tspan x="1739" dy="14">phosphate</tspan></text></g>
<g id="g006"><rect class="gr" x="1695" y="1963" width="104" height="34"/><text x="1747" y="1978">uridine<tspan x="1747" dy="14">phosphorylase</tspan></text></g>
<g id="n324"><ellipse cx="1732" cy="2028" rx="13" ry="15"/><text x="1732" y="2033">Pi</text></g>
<g id="n325"><ellipse cx="1903" cy="1866" rx="48" ry="15"/><text x="1903" y="1871">thymine, uracil</text></g>
<g id="n326"><ellipse cx="2016" cy="1872" rx="28" ry="17"/><text x="2016" y="1877">dRibP</text></g>
<g id="c047"><path class="cx" d="M1845,1930h78l5,5v14l-5,5h-78l-5,-5v-14z"/><text x="1884" y="1947">TYMP dimer</text></g>
<g id="n327"><ellipse cx="1924" cy="2019" rx="44" ry="22"/><text x="1924" y="2017">thymidine,<tspan x="1924" dy="14">deoxyuridine</tspan></text></g>
<g id="n328"><ellipse cx="2030" cy="2016" rx="13" ry="15"/><text x="2030" y="2021">Pi</text></g>
<g id="n329"><ellipse cx="2173" cy="1881" rx="52" ry="15"/><text x="2173" y="1886">cytidine, uridine</text></g>
<g id="n330"><ellipse cx="2269" cy="1883" rx="19" ry="15"/><text x="2269" y="1888">ATP</text></g>
<g id="c048"><path class="cx" d="M2126,1925h55l5,5v26l-5,5h-55l-5,-5v-26z"/><text x="2153" y="1941">UCK1<tspan x="2153" dy="14">tetramer</tspan></text></g>
<g id="c049"><path class="cx" d="M2265,1922h67l5,5v27l-5,5h-67l-5,-5v-27z"/><text x="2298" y="1939">UCK2<tspan x="2298" dy="14">tetramer</tspan></text></g>
<g id="n331"><ellipse cx="2172" cy="2016" rx="36" ry="15"/><text x="2172" y="2021">CMP, UMP</text></g>
<g id="n332"><ellipse cx="2270" cy="2016" rx="19" ry="15"/><text x="2270" y="2021">ADP</text></g>
<g id="n333"><ellipse cx="2459" cy="1884" rx="33" ry="15"/><text x="2459" y="1889">Thy-dRib</text></g>
<g id="n334"><ellipse cx="2539" cy="1894" rx="19" ry="15"/><text x="2539" y="1899">ATP</text></g>
<g id="c050"><path class="cx" d="M2403,1928h51l5,5v27l-5,5h-51l-5,-5v-27z"/><text x="2428" y="1944">TK1<tspan x="2428" dy="14">tetramer</tspan></text></g>
<g id="n335"><ellipse cx="2464" cy="2002" rx="19" ry="15"/><text x="2464" y="2007">ADP</text></g>
<g id="n336"><ellipse cx="2537" cy="2002" rx="19" ry="15"/><text x="2537" y="2007">TMP</text></g>
<g id="n340"><ellipse cx="2552" cy="1649" rx="27" ry="15"/><text x="2552" y="1654">H2O</text></g>
<g id="n341"><ellipse cx="2672" cy="1650" rx="48" ry="19"/><text x="2672" y="1655">ADP-D-ribose</text></g>
<g id="c051"><path class="cx" d="M2502,1698h52l5,5v24l-5,5h-52l-5,-5v-24z"/><text x="2528" y="1713">NUDT5<tspan x="2528" dy="14">dimer</tspan></text></g>
<g id="n342"><ellipse cx="2553" cy="1784" rx="20" ry="15"/><text x="2553" y="1789">AMP</text></g>
<g id="n343"><ellipse cx="2652" cy="1780" rx="25" ry="21"/><text x="2652" y="1785">R5P</text></g>
<g id="n344"><ellipse cx="2847" cy="1681" rx="21" ry="15"/><text x="2847" y="1686">dITP</text></g>
<g id="n345"><ellipse cx="2899" cy="1681" rx="17" ry="15"/><text x="2899" y="1686">ITP</text></g>
<g id="n346"><ellipse cx="2990" cy="1681" rx="20" ry="15"/><text x="2990" y="1686">H2O</text></g>
<g id="n347"><ellipse cx="3114" cy="1681" rx="19" ry="15"/><text x="3114" y="1686">XTP</text></g>
<g id="c052"><path class="cx" d="M2969,1708h45l5,5v27l-5,5h-45l-5,-5v-27z"/><text x="2991" y="1724">ITPA<tspan x="2991" dy="14">dimer</tspan></text></g>
<g id="n348"><ellipse cx="2990" cy="1787" rx="25" ry="15"/><text x="2990" y="1792">Mg2+</text></g>
<g id="n349"><ellipse cx="2847" cy="1835" rx="21" ry="15"/><text x="2847" y="1840">dIMP</text></g>
<g id="n350"><ellipse cx="2899" cy="1835" rx="17" ry="15"/><text x="2899" y="1840">IMP</text></g>
<g id="n351"><ellipse cx="2990" cy="1835" rx="15" ry="15"/><text x="2990" y="1840">PPi</text></g>
<g id="n352"><ellipse cx="3114" cy="1835" rx="19" ry="15"/><text x="3114" y="1840">XMP</text></g>
<g id="n360"><ellipse cx="2557" cy="74" rx="20" ry="16"/><text x="2557" y="79">ADP</text></g>
<g id="n361"><ellipse cx="2694" cy="71" rx="27" ry="15"/><text x="2694" y="76">(d)GDP</text></g>
<g id="p013"><rect class="gr" x="2585" y="138" width="83" height="34" rx="5"/><text x="2626" y="160">GUK1</text></g>
<g id="n362"><ellipse cx="2557" cy="223" rx="20" ry="16"/><text x="2557" y="228">ATP</text></g>
<g id="n363"><ellipse cx="2698" cy="215" rx="28" ry="15"/><text x="2698" y="220">(d)GMP</text></g>
<g id="n364"><ellipse cx="2770" cy="78" rx="19" ry="16"/><text x="2770" y="83">ADP</text></g>
<g id="n365"><ellipse cx="2884" cy="78" rx="43" ry="15"/><text x="2884" y="83">(d)CDP, UDP</text></g>
<g id="p014"><rect class="gr" x="2802" y="143" width="52" height="22" rx="5"/><text x="2828" y="159">CMPK1</text></g>
<g id="n366"><ellipse cx="2770" cy="217" rx="19" ry="16"/><text x="2770" y="222">ATP</text></g>
<g id="n367"><ellipse cx="2888" cy="218" rx="45" ry="15"/><text x="2888" y="223">(d)CMP, UMP</text></g>
<g id="n368"><ellipse cx="2971" cy="83" rx="20" ry="16"/><text x="2971" y="88">ADP</text></g>
<g id="n369"><ellipse cx="3179" cy="75" rx="38" ry="15"/><text x="3179" y="80">dUDP, TDP</text></g>
<g id="c053"><path class="cx" d="M3001,121h142l5,5v47l-5,5h-142l-5,-5v-47z"/><text x="3072" y="140">deoxythymidylate kinase<tspan x="3072" dy="14">(thymidylate kinase)</tspan><tspan x="3072" dy="14">holoenzyme</tspan></text></g>
<g id="n370"><ellipse cx="2970" cy="217" rx="19" ry="16"/><text x="2970" y="222">ATP</text></g>
<g id="n371"><ellipse cx="3180" cy="221" rx="38" ry="15"/><text x="3180" y="226">dUMP, TMP</text></g>
<g id="n372"><ellipse cx="2565" cy="270" rx="19" ry="15"/><text x="2565" y="275">ADP</text></g>
<g id="n373"><ellipse cx="2697" cy="264" rx="27" ry="15"/><text x="2697" y="269">(d)ADP</text></g>
<g id="p015"><rect class="gr" x="2588" y="324" width="85" height="32" rx="5"/><text x="2630" y="338">adenylate<tspan x="2630" dy="14">kinase 1</tspan></text></g>
<g id="n374"><ellipse cx="2565" cy="413" rx="19" ry="15"/><text x="2565" y="418">ATP</text></g>
<g id="n375"><ellipse cx="2697" cy="413" rx="28" ry="15"/><text x="2697" y="418">(d)AMP</text></g>
<g id="n376"><ellipse cx="2824" cy="278" rx="20" ry="16"/><text x="2824" y="283">ADP</text></g>
<g id="p016"><rect class="gr" x="2788" y="324" width="80" height="31" rx="5"/><text x="2828" y="337">adenylate<tspan x="2828" dy="14">kinase 2</tspan></text></g>
<g id="n377"><ellipse cx="2758" cy="409" rx="19" ry="16"/><text x="2758" y="414">ATP</text></g>
<g id="n378"><ellipse cx="2899" cy="405" rx="20" ry="16"/><text x="2899" y="410">AMP</text></g>
<g id="n379"><ellipse cx="2988" cy="278" rx="19" ry="16"/><text x="2988" y="283">ADP</text></g>
<g id="n380"><ellipse cx="3109" cy="276" rx="50" ry="15"/><text x="3109" y="281">(d)ADP, (d)CDP</text></g>
<g id="c054"><path class="cx" d="M3024,323h46l5,5v22l-5,5h-46l-5,-5v-22z"/><text x="3047" y="337">AK5<tspan x="3047" dy="14">dimer</tspan></text></g>
<g id="n381"><ellipse cx="2990" cy="403" rx="52" ry="15"/><text x="2990" y="408">(d)AMP, (d)CMP</text></g>
<g id="n382"><ellipse cx="3112" cy="397" rx="19" ry="16"/><text x="3112" y="402">ATP</text></g>
<g id="n390"><ellipse cx="2639" cy="922" rx="24" ry="15"/><text x="2639" y="927">L-Gln</text></g>
<g id="n391"><ellipse cx="2588" cy="954" rx="19" ry="15"/><text x="2588" y="959">ATP</text></g>
<g id="n392"><ellipse cx="2588" cy="996" rx="19" ry="15"/><text x="2588" y="1001">UTP</text></g>
<g id="n393"><ellipse cx="2644" cy="1033" rx="20" ry="15"/><text x="2644" y="1038">H2O</text></g>
<g id="c055"><path class="cx" d="M2706,905h64l5,5v24l-5,5h-64l-5,-5v-24z"/><text x="2738" y="920">CTPS2<tspan x="2738" dy="14">tetramer</tspan></text></g>
<g id="c056"><path class="cx" d="M2706,1038h69l5,5v23l-5,5h-69l-5,-5v-23z"/><text x="2740" y="1053">CTPS<tspan x="2740" dy="14">tetramer</tspan></text></g>
<g id="n394"><ellipse cx="2862" cy="921" rx="24" ry="15"/><text x="2862" y="926">Glu</text></g>
<g id="n395"><ellipse cx="2905" cy="955" rx="19" ry="15"/><text x="2905" y="960">ADP</text></g>
<g id="n396"><ellipse cx="2898" cy="996" rx="19" ry="15"/><text x="2898" y="1001">CTP</text></g>
<g id="n397"><ellipse cx="2846" cy="1033" rx="13" ry="15"/><text x="2846" y="1038">Pi</text></g>
<g id="n400"><ellipse cx="2544" cy="1165" rx="20" ry="15"/><text x="2544" y="1170">H2O</text></g>
<g id="n401"><ellipse cx="2682" cy="1165" rx="33" ry="22"/><text x="2682" y="1163">8-oxo-<tspan x="2682" dy="14">dGTP</tspan></text></g>
<g id="c057"><path class="cx" d="M2471,1226h51l5,5v11l-5,5h-51l-5,-5v-11z"/><text x="2496" y="1241">NUDT1</text></g>
<g id="p017"><rect class="gr" x="2648" y="1226" width="68" height="21" rx="5"/><text x="2682" y="1241">NUDT15</text></g>
<g id="n402"><ellipse cx="2544" cy="1326" rx="16" ry="15"/><text x="2544" y="1331">PPi</text></g>
<g id="n403"><ellipse cx="2682" cy="1325" rx="33" ry="22"/><text x="2682" y="1323">8-oxo-<tspan x="2682" dy="14">dGMP</tspan></text></g>
<g id="n404"><ellipse cx="2754" cy="1163" rx="20" ry="15"/><text x="2754" y="1168">H2O</text></g>
<g id="n405"><ellipse cx="2875" cy="1164" rx="36" ry="23"/><text x="2875" y="1162">8-oxo-<tspan x="2875" dy="14">dGDP</tspan></text></g>
<g id="p018"><rect class="gr" x="2867" y="1224" width="67" height="24" rx="5"/><text x="2900" y="1241">NUDT18</text></g>
<g id="n406"><ellipse cx="2836" cy="1325" rx="13" ry="15"/><text x="2836" y="1330">Pi</text></g>
<g id="n407"><ellipse cx="2965" cy="1165" rx="20" ry="15"/><text x="2965" y="1170">H2O</text></g>
<g id="n408"><ellipse cx="3072" cy="1164" rx="33" ry="20"/><text x="3072" y="1162">8-oxo-<tspan x="3072" dy="14">GDP</tspan></text></g>
<g id="n409"><ellipse cx="2964" cy="1325" rx="13" ry="15"/><text x="2964" y="1330">Pi</text></g>
<g id="n410"><ellipse cx="3071" cy="1325" rx="36" ry="20"/><text x="3071" y="1323">8-oxo-<tspan x="3071" dy="14">GMP</tspan></text></g>
<g id="n411"><ellipse cx="2544" cy="1401" rx="20" ry="15"/><text x="2544" y="1406">H2O</text></g>
<g id="n412"><ellipse cx="2666" cy="1402" rx="40" ry="22"/><text x="2666" y="1400">2-hydroxy-<tspan x="2666" dy="14">dATP</tspan></text></g>
<g id="n413"><ellipse cx="2773" cy="1402" rx="41" ry="25"/><text x="2773" y="1400">2-hydroxy-<tspan x="2773" dy="14">ATP</tspan></text></g>
<g id="n414"><ellipse cx="2548" cy="1561" rx="15" ry="15"/><text x="2548" y="1566">PPi</text></g>
<g id="n415"><ellipse cx="2663" cy="1561" rx="40" ry="24"/><text x="2663" y="1559">2-hydroxy-<tspan x="2663" dy="14">dAMP</tspan></text></g>
<g id="n416"><ellipse cx="2780" cy="1561" rx="45" ry="24"/><text x="2780" y="1559">2-hydroxy-<tspan x="2780" dy="14">AMP</tspan></text></g>
<g id="n417"><ellipse cx="2950" cy="1402" rx="20" ry="15"/><text x="2950" y="1407">H2O</text></g>
<g id="n418"><ellipse cx="3052" cy="1402" rx="50" ry="20"/><text x="3052" y="1400">8-hydroxy-<tspan x="3052" dy="14">dADP</tspan></text></g>
<g id="n419"><ellipse cx="2959" cy="1561" rx="13" ry="15"/><text x="2959" y="1566">Pi</text></g>
<g id="n420"><ellipse cx="3052" cy="1561" rx="44" ry="20"/><text x="3052" y="1559">8-hydroxy-<tspan x="3052" dy="14">dAMP</tspan></text></g>
</g>
</svg>
